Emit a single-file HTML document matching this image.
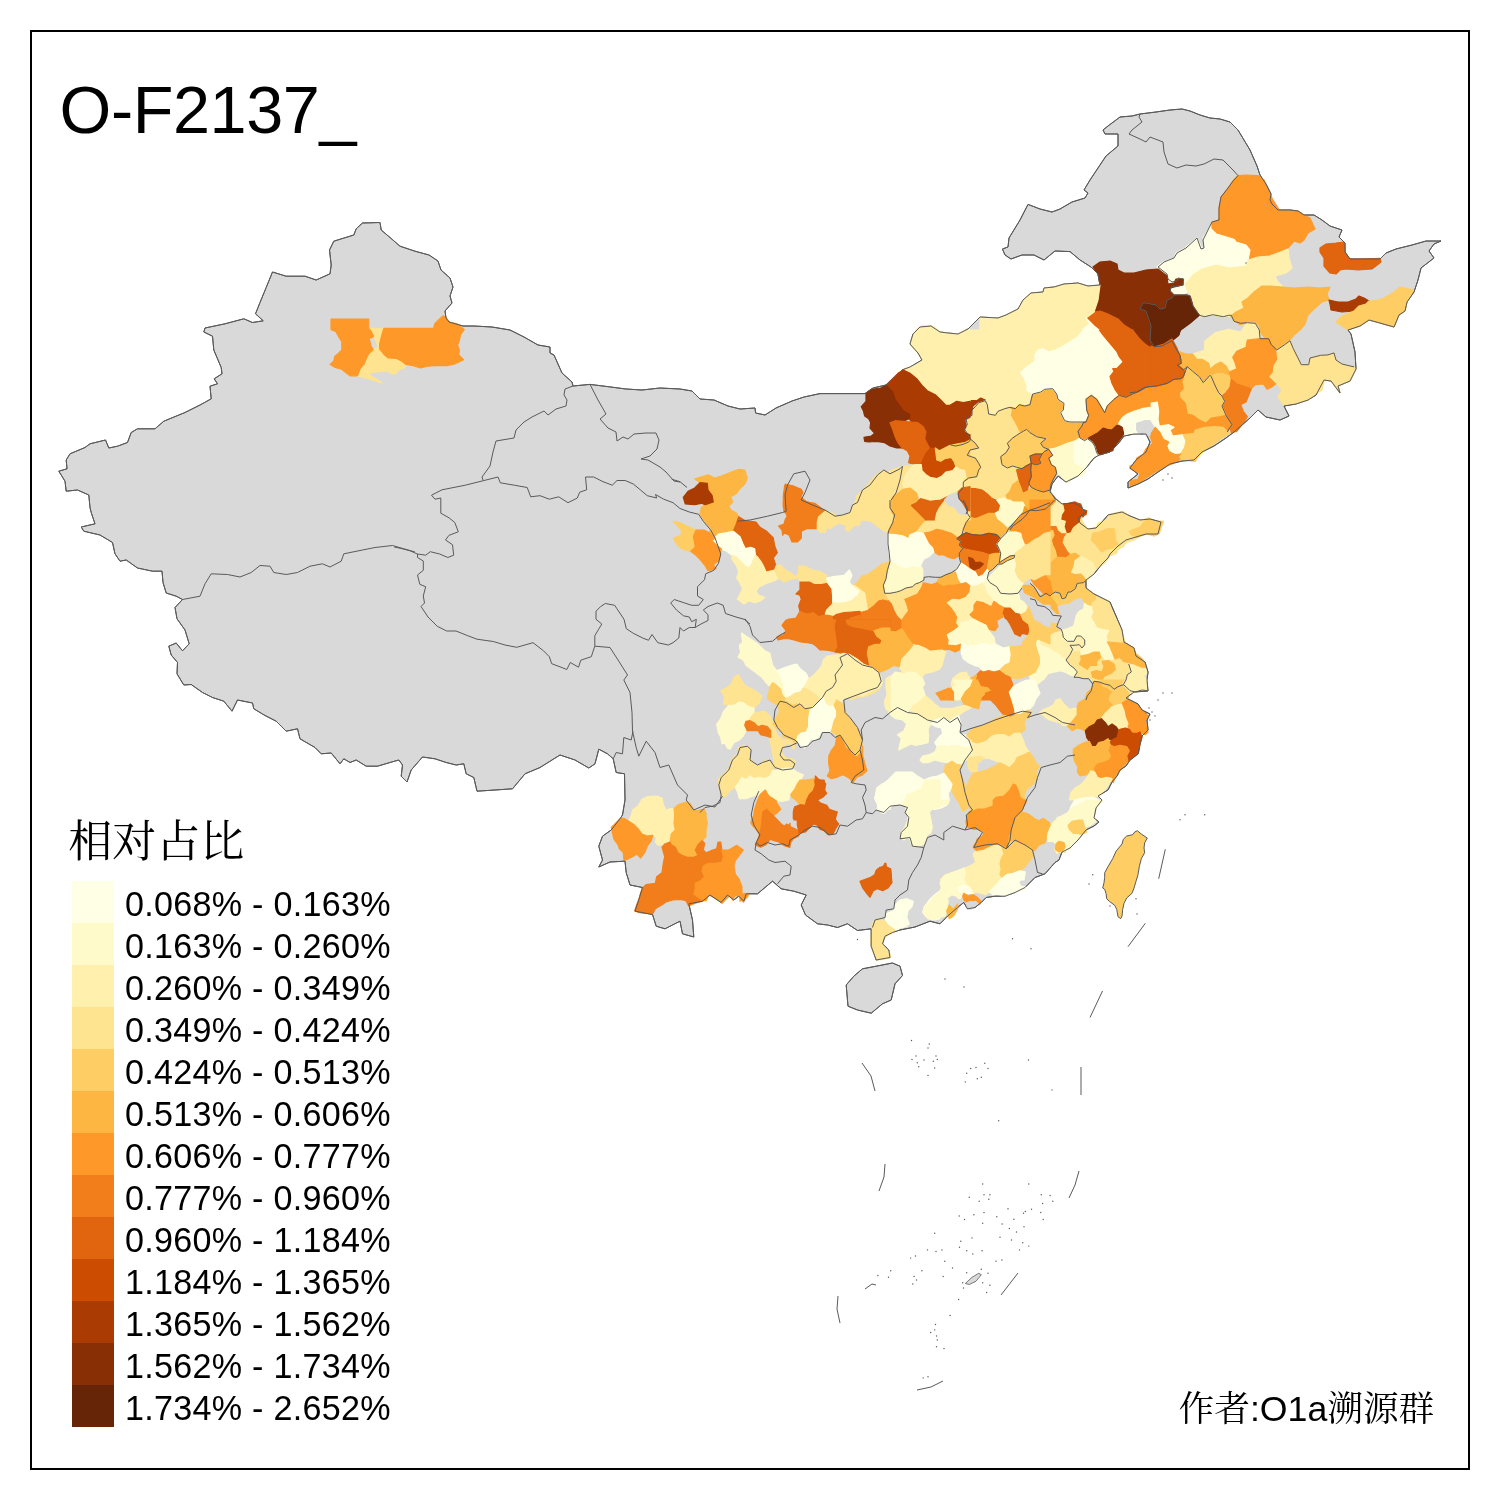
<!DOCTYPE html>
<html><head><meta charset="utf-8"><title>O-F2137_</title>
<style>html,body{margin:0;padding:0;background:#fff}svg{display:block}text{fill:#000}</style></head>
<body>
<svg width="1500" height="1500" viewBox="0 0 1500 1500">
<rect width="1500" height="1500" fill="#fff"/>
<g fill="#D9D9D9" stroke="#5a5a5a" stroke-width="1" stroke-linejoin="round">
<polygon points="415,251.2 400,246.2 390,237.5 381.2,230 380,222.5 362.5,223 356.2,228.8 353.8,235 333.8,241.2 329.5,250 331.2,265 330,273.8 316.2,280 305,276.2 286.2,276.2 272.5,272 266.2,287.5 260,302.5 255.5,313.8 263.2,320.8 252.5,322.5 243.8,318.8 225,323.8 205,328 203.8,332 212.5,336.2 213.8,350 221.2,367.5 222,373.8 214.2,378.8 217.5,383.8 210,386.2 211.2,398.8 200,405 185,412.5 163.8,421.2 155,428.8 137.5,428.8 131.2,432.5 127.5,442.5 117.5,446.2 108.8,448 105.5,440 90,443.8 85,447.5 70,453.8 66.2,460 67,468.8 58.8,471.2 65,481.2 66.2,491.2 77.5,490 88.8,495 90,507.5 91.2,512.5 95,523.8 81.2,527 83.8,531.2 100,535 112.5,542.5 115,553.8 120,561.2 126.2,560 137.5,568 152.5,571.2 162,571.2 163,582.5 166.2,593 176.2,596.2 182.5,599.5 175,607.5 177,618.8 185,630 189.2,643.8 182.5,650.8 176.2,643 168.8,646.2 171.2,655 177.5,662.5 177,673.8 183.8,685 191.2,684.5 202.5,692.5 212.5,697.5 223.8,701.2 232,711.2 237.5,700 252.5,703 253.8,708.8 265,715.5 276.2,721.2 286.2,731.2 297.5,728.8 300,738.8 315,747.5 321.2,753.8 331.2,753 340,763.8 343.8,758.8 350,762.5 356.2,760 366.2,766.2 377.5,766.2 390,762.5 398.8,760 402.5,765 401.2,776.2 407,782 411.2,770 422.5,757 435,758.8 446.2,762.5 456.2,765 463.8,763.8 466.2,773.8 473.8,777.5 477,791.2 495,790 512.5,788.8 525,773.8 540,767.5 560,755 575,760 588.8,768 595,763.8 598.8,749.2 607.5,753.8 613.2,758.8 616.2,772.5 624.5,773.8 625,800 622.5,815 620,818.8 611.2,830 602.5,836.2 598.8,846.2 602.5,860 598.8,867 610,862 625,861.2 626.2,872.5 630,885 642.5,887.5 638.8,900 635,911.2 652.5,914.5 656.2,926.2 665,928.8 680,921.2 682.5,933.8 693.8,937 692.5,920 688.8,903.8 702.5,901.2 710,895 721.2,902.5 727.5,895 733.8,900 738.8,896.2 743.8,901.2 746.2,893.8 757.5,893.8 765,887.5 772.5,881.2 781.2,888.8 793.8,891.2 806.2,895 801.2,905 805.5,915 817.5,923.8 827.5,925 837.5,927.5 847.5,923.8 857.5,930.5 871.2,928.8 871.2,935 871.2,946.2 876.2,960 890,957.5 888.8,950 882.5,943.8 885,936.2 892.5,932.5 900,930 915,927 930,921.2 940,923.8 947.5,916.2 957.5,907.5 963.8,902.5 967.5,908.8 975,907.5 981.2,902.5 986.2,897.5 995,896.2 1005,896.2 1015,892.5 1025,887.5 1035,877.5 1045,873.8 1055,862.5 1059,860 1062,852 1070,848 1078,840 1086,830 1094,826 1099,822 1094,818 1096,808 1102,800 1098,796 1108,790 1112,782 1117,776 1120,770 1126,766 1130,760 1138,754 1140,744 1142,736 1148,730 1147,720 1150,714 1142,710 1138,704 1130,700 1126,698 1134,692 1148,691 1147,680 1148,672 1145,662 1136,656 1134,648 1124,642 1122,630 1116,616 1110,602 1094,594 1086,588 1086,580 1094,574 1102,564 1108,558 1110,554 1118,546 1126,540 1136,537 1146,534 1158,534 1161,522 1150,519 1140,520 1130,516 1122,512 1108,515 1102,522 1096,528 1088,529 1080,523 1078,518 1086,512 1080,506 1074,503 1062,504 1056,499 1050,492 1052,484 1058,476 1066,482 1078,476 1086,468 1094,458 1099,455 1110,452 1118,444 1124,436 1134,434 1146,434 1150,442 1146,452 1136,460 1130,468 1138,474 1128,482 1128,488 1138,484 1148,479 1158,472 1170,464 1182,461 1194,460 1202,452 1214,446 1226,438 1234,432 1242,425 1250,418 1258,410 1266,417 1280,420 1289,416 1284,406 1296,404 1308,400 1316,395 1324,380 1331,381 1340,393 1338,386 1350,381 1356,369 1355,352 1351,334 1348,330 1360,326 1369,320 1380,323 1394,327 1399,315 1405,311 1407,302 1414,292 1418,280 1421,268 1434,258 1429,251 1434,244 1441,241 1426,241 1412,245 1396,249 1386,253 1380,259 1362,259 1350,259 1345,252 1345,243 1339,237 1342,230 1330,226 1322,220 1314,215 1304,215 1298,211 1290,210 1278,210 1272,204 1270,200 1271,194 1266,184 1260,175 1257,166 1250,150 1244,140 1238,130 1230,122 1220,119 1210,118 1200,115 1190,111 1182,109 1170,110 1156,112 1140,114 1132,116 1120,117 1108,126 1103,130 1105,134 1118,134 1118,146 1106,156 1098,168 1090,180 1084,190 1088,193 1085,198 1072,202 1060,209 1052,212 1040,209 1028,204.4 1020,220 1009,238 1008,247 1002.4,249 1005,255 1011,259 1022,255 1034,255 1044,260 1055,251 1070,251.6 1080,260 1091,267 1098,274 1100,285 1088,286 1078,283 1064,284 1054,287 1044,288 1043,292 1031,293 1023,300 1018,309 1006,315 998,318 980,317 968,329 958,334 948,333 940,332 931,326 920,327 913,334 910,344 918,353 922,360 910,367 902,370 894,378 886,385 873,388 865,393.6 840,393.6 820,393.6 804,397 792,401 776,408 765,415 755.6,413 755,408 740,409 728,406 714,400 700,399 692,391 680,389 660,388 642,390 626,389 606,386.4 590,384.4 573,386 572,382 562,373 554,355 550,353 550,347 538,345 524,337 510,330 492,327 474,326 463,326 449,322 446,318 445,311 452,303 450,296 453,287 450,278 441,270 438,261 429,255"/>
<polygon points="862.5,968.8 876.2,966.2 892.5,963 900,966.2 902.5,975.5 895,983.8 891.2,1000 882.5,1003.8 871.2,1013.2 857.5,1010 848,1006.2 846.2,985 853.8,976.2"/>
</g>
<g fill="none" stroke="#5a5a5a" stroke-width="1" stroke-linejoin="round">
</g>
<g stroke-width="1.2" stroke-linejoin="round">
<polygon fill="#FE9929" stroke="#FE9929" points="1221,200 1270,200 1272,204 1278,210 1290,210 1298,211 1304,215 1310,218 1315,229 1308,233 1304,240 1300,243 1294,241 1288,248 1278,253 1270,256 1258,257 1248,260 1250,250 1246,245 1236,242 1232,236 1236,230 1227,230 1219,232 1211,225 1219,220 1221,210"/>
<polygon fill="#FFFFE5" stroke="#FFFFE5" points="1211,225 1219,232 1227,230 1236,230 1232,236 1236,242 1246,245 1250,250 1248,260 1246,266 1230,268 1216,265 1202,269 1193,275 1189,280 1185,284 1188,292 1183,294 1172,294 1170,288 1183,285 1183,279 1176,279 1174,283 1168,284 1165,276 1157,267 1163,262 1174,258 1176,253 1185,248 1197,238 1202,249 1205,245 1203,238"/>
<polygon fill="#FFF0AE" stroke="#FFF0AE" points="1193,275 1202,269 1216,265 1230,268 1246,266 1248,260 1258,257 1270,256 1278,253 1288,249 1289,258 1292,268 1286,273 1275,276 1278,282 1283,287 1270,286 1262,286 1254,292 1248,298 1242,302 1244,308 1236,312 1231,316 1224,317 1212,315 1200,317 1194,309 1192,296 1188,292 1185,284 1189,280"/>
<polygon fill="#FEB642" stroke="#FEB642" points="1231,316 1236,312 1244,308 1242,302 1248,298 1254,292 1262,286 1270,286 1283,287 1294,288 1308,287 1320,288 1330,287 1327,294 1329,300 1322,302 1314,309 1308,315 1305,324 1300,330 1294,335 1290,340 1283,349 1278,351 1272,344 1270,339 1264,337 1260,332 1259,325 1248,322 1240,325 1234,320"/>
<polygon fill="#E1640E" stroke="#E1640E" points="1320,248 1326,244 1336,243 1344,242 1345,252 1349,259 1362,259 1380,258.4 1381,262 1372,269 1358,270 1346,269 1340,270 1336,274 1330,273 1324,266 1324,258 1320,252"/>
<polygon fill="#AA3C03" stroke="#AA3C03" points="1329,300 1338,302 1348,302 1356,299 1359,296 1364,298 1369,301 1366,304 1359,306 1354,311 1342,312 1331,310 1330,304"/>
<polygon fill="#FECE65" stroke="#FECE65" points="1336,322 1342,316 1354,311 1359,306 1366,304 1369,301 1378,300 1384,298 1394,292 1400,287 1414,290 1407,302 1405,311 1399,315 1394,327 1380,323 1369,320 1360,326 1348,330 1342,326"/>
<polygon fill="#FFF0AE" stroke="#FFF0AE" points="1192.7,354 1204.7,350 1204.7,341.3 1215.3,332.7 1228.7,329.3 1240.7,332 1247.3,322.7 1255.3,323.3 1259.3,330 1260,338.7 1247.3,340 1246,347.3 1236.7,351.3 1232.7,357.3 1235.3,363.3 1236.7,368.7 1229.3,372 1226,366 1220.7,362 1215.3,364.7 1210,369.3 1208.7,363.3 1202,359.3 1196.7,359.3"/>
<polygon fill="#FEB642" stroke="#FEB642" points="1178,351.3 1186,354 1192.7,354 1196.7,359.3 1202,359.3 1208.7,363.3 1210,369.3 1210,375.3 1203.3,382.7 1199.3,376.7 1192.7,371.3 1187.3,366.7 1183.3,370 1177.3,365.3 1181.3,363.3"/>
<polygon fill="#FEB642" stroke="#FEB642" points="1210,369.3 1215.3,364.7 1220.7,362 1226,366 1229.3,372 1228.7,376 1222,373.3 1215.3,374 1211.3,376.7"/>
<polygon fill="#FECE65" stroke="#FECE65" points="1211.3,376.7 1215.3,374 1222,373.3 1228.7,376 1231.3,379.3 1230,387.3 1226,392.7 1222,396 1218.7,392.7 1215.3,386"/>
<polygon fill="#FE9929" stroke="#FE9929" points="1247.3,340 1260,338.7 1268.7,338.7 1271.3,344.7 1276.7,350 1278,359.3 1274,366 1273.3,372.7 1270,376.7 1276.7,383.3 1271.3,387.3 1267.3,389.3 1263.3,384 1255.3,384.7 1251.3,388.7 1243.3,386 1236.7,384 1231.3,379.3 1229.3,372 1236.7,368.7 1235.3,363.3 1232.7,357.3 1236.7,351.3 1246,347.3"/>
<polygon fill="#F27E1B" stroke="#F27E1B" points="1222,396 1226,392.7 1230,387.3 1231.3,379.3 1236.7,384 1243.3,386 1251.3,388.7 1248.7,395.3 1246,402 1240.7,404.7 1243.3,411.3 1247.3,416.7 1243.3,423.3 1236.7,431.3 1231.3,432.7 1230,427.3 1232,424.7 1226,415.3 1222,406 1224.7,401.3"/>
<polygon fill="#FEE391" stroke="#FEE391" points="1276.7,350 1284.7,344.7 1290,340.7 1293.3,348.7 1298,358 1301.3,364.7 1308.7,364.7 1310,358 1320.7,355.3 1328,354.9 1334,352.9 1336,360 1342,364 1354,366.9 1356,368.9 1350,380.9 1338,386 1340,392.9 1330.9,380.9 1324.7,379.3 1322,390 1315.3,394 1307.3,400.7 1296.7,403.3 1284.7,404.7 1283.3,404.7 1278,396.7 1282,390 1276.7,383.3 1270,376.7 1273.3,372.7 1274,366 1278,359.3"/>
<polygon fill="#FECE65" stroke="#FECE65" points="1187.3,366.7 1192.7,371.3 1199.3,376.7 1203.3,382.7 1210,375.3 1211.3,376.7 1215.3,386 1218.7,392.7 1222,396 1224.7,401.3 1222,406 1226,415.3 1220.7,416.7 1211.3,418 1206,423.3 1199.3,420 1192.7,415.3 1187.3,414 1185.3,403.3 1180,398 1179.3,392.7 1183.3,388.7 1182,382 1183.3,376.7 1185.3,371.3"/>
<polygon fill="#FE9929" stroke="#FE9929" points="1130,392.7 1136.7,392 1144.7,387.3 1156.7,386 1167.3,383.3 1174,379.3 1180.7,378.7 1183.3,376.7 1182,382 1183.3,388.7 1179.3,392.7 1180,398 1185.3,403.3 1187.3,414 1192.7,415.3 1199.3,420 1206,423.3 1211.3,418 1220.7,416.7 1226,415.3 1232,424.7 1230,427.3 1227.3,432 1223.3,427.3 1215.3,426.7 1204.7,427.3 1195.3,430 1194,433.3 1183.3,434.7 1172.7,436 1170,430 1174,427.3 1168.7,424.7 1159.3,426 1158,419.3 1158.7,411.3 1157.3,402 1150,403.3 1142,408 1134,411.3 1130,411.3"/>
<polygon fill="#FFFFE5" stroke="#FFFFE5" points="1130,411.3 1134,411.3 1142,408 1150,403.3 1157.3,402 1158.7,411.3 1158,419.3 1159.3,426 1155.3,427.3 1151.3,420.7 1146,420 1138,423.3 1139.3,430 1130,430.7"/>
<polygon fill="#FFFFE5" stroke="#FFFFE5" points="1159.3,426 1168.7,424.7 1174,427.3 1170,430 1172.7,436 1183.3,434.7 1186,440.7 1184.7,447.3 1180.7,454 1175.3,454.7 1168.7,451.3 1166.7,446 1168.7,442 1163.3,439.3 1160,432.7 1155.3,427.3"/>
<polygon fill="#FECE65" stroke="#FECE65" points="1183.3,434.7 1194,433.3 1195.3,430 1204.7,427.3 1215.3,426.7 1223.3,427.3 1227.3,432 1230,433.3 1222,438 1212.7,444.7 1204.7,450 1199.3,455.3 1195.3,461.3 1186,460.7 1180,459.3 1178,456.7 1180.7,454 1184.7,447.3 1186,440.7"/>
<polygon fill="#FE9929" stroke="#FE9929" points="1151.3,433.3 1155.3,427.3 1160,432.7 1163.3,439.3 1168.7,442 1166.7,446 1168.7,451.3 1175.3,454.7 1180.7,454 1178,456.7 1180,459.3 1174,463.3 1163.3,467.3 1154,472.7 1146,478 1138,483.3 1130,486 1130,480.7 1138,479.3 1140,473.3 1130,468.7 1130,466 1135.3,463.3 1136.7,458 1143.3,454 1146,448.7 1152.7,443.3 1150,436"/>
<polygon fill="#E1640E" stroke="#E1640E" points="1130,334 1138,338 1144.7,342 1154,346.7 1162,346 1172,340.7 1176,348.7 1180,355.3 1181.3,363.3 1177.3,365.3 1183.3,370 1185.3,371.3 1183.3,376.7 1180.7,378.7 1174,379.3 1167.3,383.3 1156.7,386 1144.7,387.3 1136.7,392 1130,392.7"/>
<polygon fill="#882F05" stroke="#882F05" points="1130,310 1146,310 1148.7,318 1152,323.3 1150,335.3 1154,342 1154,346.7 1144.7,342 1138,338 1130,334"/>
<polygon fill="#662506" stroke="#662506" points="1146,310 1195.3,310 1199.3,315.3 1190,323.3 1180.7,330 1178,336 1172,340.7 1162,346 1154,346.7 1154,342 1150,335.3 1152,323.3 1148.7,318"/>
<polygon fill="#FE9929" stroke="#FE9929" points="1238,175.6 1246,175 1258,175.6 1264,180 1268,190 1273,200 1280,211 1280,240 1240,240 1217,233 1212,228 1212,222 1219,220 1219,208 1221,197 1228,188 1233,181"/>
<polygon fill="#882F05" stroke="#882F05" points="1093,267 1100,262 1110,261 1117,264 1118,270 1124,273 1134,273 1146,270 1158,269 1167,276 1168,284 1171,287 1170,291 1174,295 1172,298 1167,300 1165,308 1160,309 1156,305 1146,303 1140,309 1146,311 1149,320 1151,326 1150,340 1154,347 1148,345 1140,339 1132,330 1124,325 1118,319 1108,314 1100,311 1094,312 1098,300 1100,285 1098,274"/>
<polygon fill="#662506" stroke="#662506" points="1140,309 1143,303 1146,303 1156,305 1160,309 1165,308 1167,300 1172,298 1174,295 1187,295 1190,296 1193,306 1199,315 1190,322 1180,330 1179,335 1172,339 1164,344 1154,347 1150,340 1151,326 1149,320 1146,311"/>
<polygon fill="#E1640E" stroke="#E1640E" points="1086,318 1094,312 1100,311 1108,314 1118,319 1124,325 1132,330 1140,339 1148,345 1154,347 1164,344 1172,339 1177,348 1181,360 1178,365 1184,370 1180,376 1172,379 1160,384 1150,386 1144,392 1136,396 1128,400 1118,400 1114,389 1111,380 1116,370 1123,362 1118,354 1112,344 1104,334 1094,326"/>
<polygon fill="#FFF0AE" stroke="#FFF0AE" points="980,317 998,318 1006,315 1018,309 1023,300 1031,293 1043,292 1044,288 1054,287 1064,284 1078,283 1088,286 1100,285 1098,300 1094,312 1086,318 1090,324 1082,330 1078,340 1068,344 1060,350 1046,348 1036,350 1034,358 1026,364 1020,374 1027,382 1028,390 1032,395 1030,400 980,400"/>
<polygon fill="#FFFFE5" stroke="#FFFFE5" points="1086,318 1094,326 1104,334 1112,344 1118,354 1123,362 1116,370 1111,380 1114,389 1118,400 1092,400 1088,396 1082,400 1058,400 1056,392 1050,389 1042,392 1032,395 1028,390 1027,382 1020,374 1026,364 1034,358 1036,350 1046,348 1060,350 1068,344 1078,340 1082,330 1090,324"/>
<polygon fill="#FFF0AE" stroke="#FFF0AE" points="950,334 958,334 964.7,330 1083.3,330 1078,336.7 1070,342 1063.3,346 1055.3,350 1048.7,352 1043.3,348.7 1038,350 1034.7,355.3 1035.3,360.7 1030,364.7 1024.7,368.7 1020.7,372.7 1024.7,379.3 1027.3,386 1026.7,390 1032.7,394 1031.3,399.3 1030,404.7 1024.7,406 1019.3,404.7 1015.3,408.7 1010,407.3 1004.7,408.7 998,411.3 995.3,415.3 988.7,414 987.3,404.7 985.3,400.7 980.7,398 976.7,400.7 970,400.7 963.3,402 950,402.7"/>
<polygon fill="#AA3C03" stroke="#AA3C03" points="950,402.7 963.3,402 970,400.7 976.7,400.7 980.7,398 985.3,400 978.7,402.7 975.3,406.7 972,410 972,415.3 966,418.7 967.3,424.7 964,428.7 968.7,435.3 970.7,439.3 968.7,442 962,444.7 955.3,446 950,444.7"/>
<polygon fill="#FEE391" stroke="#FEE391" points="972,415.3 974,406.7 978.7,402.7 985.3,400.7 987.3,404.7 988.7,414 995.3,415.3 998,411.3 1004.7,408.7 1010,407.3 1012.7,410 1011.3,415.3 1015.3,422 1018,427.3 1020.7,432.7 1016.7,435.3 1012.7,438 1007.3,443.3 1009.3,447.3 1006,452.7 1000.7,456.7 1001.3,463.3 996.7,463.3 990,464.7 980.7,467.3 978.7,463.3 975.3,458 971.3,456.7 967.3,455.3 970,450 978.7,448 975.3,443.3 970.7,439.3 968.7,435.3 964,428.7 967.3,424.7 966,420.7"/>
<polygon fill="#FEB642" stroke="#FEB642" points="1010,407.3 1015.3,408.7 1019.3,404.7 1024.7,406 1030,404.7 1031.3,399.3 1032.7,394 1040.7,392 1044.7,389.3 1052.7,388.7 1056.7,394 1058,399.3 1064,403.3 1063.3,410 1060.7,412.7 1064.7,420.7 1070,422 1076.7,422 1083.3,422.7 1082,426 1078,431.3 1080,438 1075.3,440.7 1067.3,443.3 1060.7,446 1055.3,448 1048.7,449.3 1043.3,447.3 1040.7,443.3 1046,438.7 1036.7,436.7 1030,432.7 1026.7,429.3 1023.3,431.3 1020.7,432.7 1018,427.3 1015.3,422 1011.3,415.3 1012.7,410"/>
<polygon fill="#FFFFE5" stroke="#FFFFE5" points="1020.7,372.7 1024.7,368.7 1030,364.7 1035.3,360.7 1034.7,355.3 1038,350 1043.3,348.7 1048.7,352 1055.3,350 1063.3,346 1070,342 1078,336.7 1083.3,330 1099.3,330 1103.3,335.3 1110,343.3 1116.7,351.3 1119.3,356.7 1123.3,362 1116.7,368.7 1112.7,368.7 1114,371.3 1110,376.7 1112,383.3 1115.3,390 1119.3,395.3 1114,399.3 1107.3,406 1104.7,412.7 1100.7,406 1096.7,399.3 1091.3,395.3 1086,399.3 1086.7,410 1088.7,415.3 1086,422 1076.7,422 1070,422 1064.7,420.7 1060.7,412.7 1063.3,410 1064,403.3 1058,399.3 1056.7,394 1052.7,388.7 1044.7,389.3 1040.7,392 1032.7,394 1026.7,390 1027.3,386 1024.7,379.3"/>
<polygon fill="#E1640E" stroke="#E1640E" points="1099.3,330 1134,330 1139.3,336.7 1146,343.3 1150,346 1150,386 1146,387.3 1139.3,391.3 1132.7,394 1126,397.3 1119.3,395.3 1115.3,390 1112,383.3 1110,376.7 1114,371.3 1112.7,368.7 1116.7,368.7 1123.3,362 1119.3,356.7 1116.7,351.3 1110,343.3 1103.3,335.3"/>
<polygon fill="#882F05" stroke="#882F05" points="1134,330 1150,330 1150,346 1146,343.3 1139.3,336.7"/>
<polygon fill="#FE9929" stroke="#FE9929" points="1086,399.3 1091.3,395.3 1096.7,399.3 1100.7,406 1104.7,412.7 1107.3,406 1114,399.3 1119.3,395.3 1126,397.3 1132.7,394 1139.3,391.3 1146,387.3 1150,386 1150,407.3 1142,408.7 1134,411.3 1127.3,414 1122,418 1118.7,423.3 1116.7,425.3 1112,430 1107.3,429.3 1103.3,428 1098,432.7 1093.3,435.3 1087.3,438.7 1084.7,440.7 1080,438 1078,431.3 1082,426 1083.3,422.7 1086,422 1088.7,415.3 1086.7,410"/>
<polygon fill="#882F05" stroke="#882F05" points="1087.3,438.7 1093.3,435.3 1098,432.7 1103.3,428 1107.3,429.3 1112,430 1116.7,425.3 1123.3,426.7 1124.7,432.7 1122,436.7 1118,442 1114,447.3 1112.7,450.7 1106,452.7 1100.7,454.7 1096.7,452.7 1094.7,446 1092,442"/>
<polygon fill="#FFFFE5" stroke="#FFFFE5" points="1118.7,423.3 1122,418 1127.3,414 1134,411.3 1142,408.7 1150,407.3 1150,420.7 1144.7,420.7 1138,423.3 1136.7,430 1139.3,434 1134,433.3 1128.7,434 1124.7,435.3 1124.7,432.7 1123.3,426.7"/>
<polygon fill="#D9D9D9" stroke="#D9D9D9" points="1136.7,423.3 1144.7,420.7 1150,420.7 1150,435.3 1146,435.3 1142,432.7 1139.3,434 1136.7,430"/>
<polygon fill="#FFFACA" stroke="#FFFACA" points="1048.7,449.3 1055.3,448 1060.7,446 1067.3,443.3 1075.3,440.7 1074,446 1075.3,450 1074,456.7 1075.3,463.3 1083.3,467.3 1086,471.3 1082,475.3 1076.7,476.7 1070,479.3 1068.7,482.7 1064.7,480.7 1060.7,475.3 1056.7,473.3 1055.3,467.3 1051.3,464.7 1048.7,458 1052.7,455.3 1050,451.3"/>
<polygon fill="#FFFFE5" stroke="#FFFFE5" points="1075.3,440.7 1080,438 1084.7,440.7 1087.3,438.7 1092,442 1094.7,446 1096.7,452.7 1098,454.7 1092.7,458 1088.7,462 1086,467.3 1083.3,467.3 1075.3,463.3 1074,456.7 1075.3,450 1074,446"/>
<polygon fill="#FECE65" stroke="#FECE65" points="1007.3,443.3 1012.7,438 1016.7,435.3 1020.7,432.7 1023.3,431.3 1026.7,429.3 1030,432.7 1036.7,436.7 1046,438.7 1040.7,443.3 1043.3,447.3 1048.7,449.3 1044.7,451.3 1042,454 1035.3,454 1030,456 1031.3,463.3 1026,466 1022,468.7 1016.7,467.3 1012.7,466 1007.3,468 1002,464.7 1001.3,463.3 1000.7,456.7 1006,452.7 1009.3,447.3"/>
<polygon fill="#E1640E" stroke="#E1640E" points="1030,456 1035.3,454 1042,454 1039.3,459.3 1040.7,463.3 1036.7,464.7 1033.3,464 1031.3,463.3"/>
<polygon fill="#FE9929" stroke="#FE9929" points="1042,454 1044.7,451.3 1048.7,449.3 1050,451.3 1052.7,455.3 1048.7,458 1051.3,464.7 1055.3,467.3 1056.7,473.3 1054,478 1051.3,483.3 1050,490 1043.3,492 1036.7,490 1031.3,487.3 1028.7,483.3 1031.3,476.7 1030.7,470 1031.3,463.3 1033.3,464 1036.7,464.7 1040.7,463.3 1039.3,459.3"/>
<polygon fill="#E1640E" stroke="#E1640E" points="1015.3,470 1022,468.7 1026,466 1031.3,463.3 1030.7,470 1031.3,476.7 1028.7,483.3 1027.3,491.3 1022.7,493.3 1020.7,487.3 1018,480.7 1016.7,475.3"/>
<polygon fill="#FEE391" stroke="#FEE391" points="963.3,482 968.7,478 976.7,476.7 978.7,470 980.7,467.3 990,464.7 996.7,463.3 1001.3,463.3 1002,464.7 1007.3,468 1012.7,466 1016.7,467.3 1015.3,470 1016.7,475.3 1018,480.7 1012.7,484.7 1010,491.3 1006,495.3 1008.7,500.7 1003.3,498 998,499.3 991.3,498 987.3,494 982,490 975.3,488.7 968.7,488.7 963.3,487.3"/>
<polygon fill="#FEB642" stroke="#FEB642" points="1006,495.3 1010,491.3 1012.7,484.7 1018,480.7 1020.7,487.3 1022.7,493.3 1027.3,491.3 1031.3,487.3 1036.7,490 1043.3,492 1050,490 1052.7,495.3 1055.3,499.3 1050,504.7 1046,508.7 1040.7,510 1035.3,510.7 1030,510 1026,515.3 1022,519.3 1016.7,523.3 1012.7,522 1014,516.7 1016.7,512.7 1019.3,506 1024.7,506 1022.7,502 1016.7,502 1012.7,502 1008.7,500.7"/>
<polygon fill="#E1640E" stroke="#E1640E" points="958,494 963.3,488.7 968.7,488.7 975.3,488.7 982,490 987.3,494 991.3,498 996.7,500.7 1000,507.3 996.7,512.7 990,514 984.7,516.7 976.7,519.3 971.3,516.7 967.3,511.3 964.7,503.3 959.3,499.3"/>
<polygon fill="#FFFACA" stroke="#FFFACA" points="996.7,500.7 998,499.3 1003.3,498 1008.7,500.7 1012.7,502 1022.7,502 1024.7,506 1019.3,506 1016.7,512.7 1014,516.7 1012.7,522 1007.3,526 1002,524.7 999.3,519.3 995.3,516.7 996.7,512.7 1000,507.3"/>
<polygon fill="#FECE65" stroke="#FECE65" points="950,446 955.3,446 962,444.7 968.7,442 970.7,439.3 975.3,443.3 978.7,448 970,450 967.3,455.3 971.3,456.7 975.3,458 978.7,463.3 980.7,467.3 978.7,470 976.7,476.7 968.7,478 963.3,482 958,474 955.3,470 952.7,458 950,456.7"/>
<polygon fill="#E1640E" stroke="#E1640E" points="950,456.7 952.7,458 956.7,468.7 955.3,471.3 950,472.7"/>
<polygon fill="#FFF0AE" stroke="#FFF0AE" points="950,472.7 955.3,470 958,474 963.3,482 963.3,487.3 958,494 954,492.7 950,492.7"/>
<polygon fill="#CC4C02" stroke="#CC4C02" points="1062.7,504.7 1070,503.3 1075.3,502 1079.3,506 1083.3,510 1086,511.3 1083.3,516.7 1078,518 1079.3,522 1075.3,526 1070,530 1062,530 1060.7,522 1063.3,516.7 1064.7,511.3"/>
<polygon fill="#FEE391" stroke="#FEE391" points="1046,508.7 1050,504.7 1055.3,499.3 1058,502 1060.7,502 1062.7,504.7 1064.7,511.3 1063.3,516.7 1060.7,522 1054,522 1047.3,526 1043.3,530 1035.3,530 1038,523.3 1042,516.7 1043.3,512.7"/>
<polygon fill="#FE9929" stroke="#FE9929" points="1016.7,523.3 1022,519.3 1026,515.3 1030,510 1035.3,510.7 1040.7,510 1046,508.7 1043.3,512.7 1042,516.7 1038,523.3 1035.3,530 1010,530 1012.7,526"/>
<polygon fill="#FEB642" stroke="#FEB642" points="963.3,530 967.3,522 971.3,516.7 976.7,519.3 984.7,516.7 990,514 995.3,516.7 999.3,519.3 1002,524.7 1006,530"/>
<polygon fill="#FEE391" stroke="#FEE391" points="1078.7,522 1080.7,516 1082.7,522 1087.3,528.7 1095.3,528.7 1098,523.3 1107.3,519.3 1108.7,514.7 1116.7,512.7 1123.3,511.3 1128.7,516 1135.3,518.7 1140.7,520 1148.7,518 1154,521.3 1163.3,521.3 1161.3,526.7 1159.3,533.3 1154,536 1147.3,534 1140.7,536 1134,540 1126,542.7 1123.3,546.7 1118,549.3 1116.7,553.3 1110,556 1106,561.3 1102,565.3 1095.3,569.3 1092.7,574.7 1088.7,578.7 1086,580.7 1083.3,576.7 1080.7,574 1075.3,574.7 1070,572.7 1072.7,566.7 1074,560 1079.3,556 1075.3,553.3 1070,554.7 1067.3,552 1064.7,547.3 1062,542.7 1063.3,537.3 1066,532.7 1070,532 1072.7,526.7"/>
<polygon fill="#FECE65" stroke="#FECE65" points="1092.7,533.3 1099.3,532 1107.3,528.7 1114,528.7 1115.3,534.7 1115.3,540 1118,544 1112.7,548 1106,549.3 1102,552 1099.3,549.3 1095.3,544 1091.3,540"/>
<polygon fill="#FECE65" stroke="#FECE65" points="1129.3,531.3 1135.3,528.7 1140.7,526.7 1143.3,522.7 1148.7,518 1154,521.3 1163.3,521.3 1161.3,526.7 1159.3,533.3 1154,536 1147.3,534 1140.7,536 1136.7,537.3 1131.3,534.7"/>
<polygon fill="#FFF0AE" stroke="#FFF0AE" points="1072.7,566.7 1074,560 1079.3,556 1086,558.7 1092.7,562.7 1095.3,569.3 1092.7,574.7 1088.7,578.7 1086,580.7 1083.3,576.7 1080.7,574 1075.3,574.7 1070,572.7"/>
<polygon fill="#CC4C02" stroke="#CC4C02" points="1062.7,504.7 1074,502 1080.7,504 1082.7,509.3 1086.7,510.7 1086,514.7 1080.7,516 1078.7,522 1072.7,526.7 1070,532 1066,532.7 1064,526.7 1065.3,521.3 1060.7,520 1061.3,514.7 1064,510.7"/>
<polygon fill="#F27E1B" stroke="#F27E1B" points="1047.3,527.3 1051.3,525.3 1056.7,525.3 1058.7,530 1062,532.7 1066,532.7 1063.3,537.3 1062,542.7 1064.7,547.3 1067.3,552 1070,554.7 1066,558 1062,557.3 1056.7,557.3 1055.3,550.7 1052.7,545.3 1051.3,540 1054,535.3 1052.7,530.7 1048.7,530"/>
<polygon fill="#FFF0AE" stroke="#FFF0AE" points="1042,517.3 1047.3,513.3 1050,506.7 1055.3,501.3 1062.7,504.7 1064,510.7 1061.3,514.7 1060.7,520 1065.3,521.3 1064,526.7 1066,532.7 1062,532.7 1058.7,530 1056.7,525.3 1051.3,525.3 1047.3,527.3 1048.7,530 1043.3,530.7 1040.7,524"/>
<polygon fill="#FE9929" stroke="#FE9929" points="1030,500 1055.3,500 1055.3,501.3 1050,506.7 1047.3,513.3 1042,517.3 1036.7,521.3 1034,526.7 1035.3,532 1030,537.3"/>
<polygon fill="#FECE65" stroke="#FECE65" points="1030,537.3 1035.3,532 1034,526.7 1036.7,521.3 1042,517.3 1040.7,524 1043.3,530.7 1048.7,530 1052.7,530.7 1054,535.3 1051.3,540 1052.7,545.3 1055.3,550.7 1056.7,557.3 1051.3,562.7 1047.3,566.7 1043.3,570.7 1038,574.7 1032.7,577.3 1030,578.7"/>
<polygon fill="#FEB642" stroke="#FEB642" points="1043.3,570.7 1047.3,566.7 1051.3,562.7 1056.7,557.3 1062,557.3 1066,558 1070,554.7 1075.3,553.3 1079.3,556 1074,560 1072.7,566.7 1070,572.7 1075.3,574.7 1080.7,574 1083.3,576.7 1086,580.7 1083.3,582.7 1078,582.7 1075.3,588 1071.3,592 1067.3,592 1064.7,598 1061.3,597.3 1059.3,593.3 1055.3,592 1052.7,593.3 1050,596 1046,593.3 1051.3,588 1050,581.3 1047.3,578.7"/>
<polygon fill="#FE9929" stroke="#FE9929" points="1031.3,580 1038,574.7 1043.3,570.7 1047.3,578.7 1050,581.3 1051.3,588 1052.7,593.3 1050,596 1046,597.3 1042,592 1038,588 1034,584"/>
<polygon fill="#FECE65" stroke="#FECE65" points="1050,596 1052.7,593.3 1055.3,592 1059.3,593.3 1061.3,597.3 1064.7,598 1067.3,592 1071.3,592 1075.3,588 1078,582.7 1083.3,582.7 1085.3,588 1091.3,592 1096.7,596 1096.7,600 1092.7,602.7 1091.3,606.7 1087.3,605.3 1083.3,602.7 1080.7,598.7 1075.3,600 1070,604 1063.3,605.3 1058,606.7"/>
<polygon fill="#FEB642" stroke="#FEB642" points="1030,585.3 1034,586.7 1039.3,596 1043.3,594.7 1050,596 1058,606.7 1060,613.3 1056.7,613.3 1052.7,609.3 1048.7,605.3 1044.7,604 1038,602.7 1035.3,598.7 1030,596"/>
<polygon fill="#FEE391" stroke="#FEE391" points="1091.3,606.7 1092.7,602.7 1096.7,600 1096.7,596 1108.7,601.3 1111.3,609.3 1115.3,617.3 1119.3,625.3 1122,630.7 1123.3,636 1124.7,642 1122,643.3 1115.3,642.7 1107.3,642 1106,636 1108.7,630.7 1102,629.3 1096.7,628 1094,622.7 1090.7,617.3 1092.7,612"/>
<polygon fill="#FFFACA" stroke="#FFFACA" points="1075.3,614.7 1078,610.7 1082.7,608 1083.3,602.7 1087.3,605.3 1091.3,606.7 1092.7,612 1090.7,617.3 1094,622.7 1096.7,628 1102,629.3 1108.7,630.7 1106,636 1107.3,642 1110,646.7 1112.7,653.3 1115.3,660 1110,661.3 1104.7,660.7 1102,657.3 1099.3,652 1094,652 1087.3,654.7 1080.7,656 1079.3,650.7 1082,648 1084.7,644.7 1084.7,640 1080.7,636 1076.7,636 1074,641.3 1067.3,641.3 1063.3,637.3 1062.7,633.3 1061.3,629.3 1066,628 1072.7,625.3 1074,620"/>
<polygon fill="#FEB642" stroke="#FEB642" points="1107.3,642 1115.3,642.7 1122,643.3 1124.7,642 1128.7,645.3 1134,648 1135.3,653.3 1142,658.7 1144.7,662.7 1146,668.7 1140.7,668 1134,665.3 1128.7,664 1123.3,662.7 1119.3,658.7 1115.3,660 1112.7,653.3 1110,646.7"/>
<polygon fill="#FEE391" stroke="#FEE391" points="1066,660 1070,654.7 1074,650.7 1079.3,650.7 1080.7,656 1081.3,660 1079.3,664 1083.3,666.7 1087.3,669.3 1090,665.3 1096.7,665.3 1096.7,661.3 1100.7,657.3 1102,657.3 1104.7,660.7 1115.3,660 1119.3,658.7 1123.3,662.7 1128.7,664 1134,665.3 1131.3,672 1127.3,674.7 1126,680 1123.3,684.7 1118,686.7 1114,689.3 1110,685.3 1104.7,684 1099.3,682 1094,681.3 1088.7,678.7 1083.3,678.7 1078,677.3 1074,677.3 1077.3,672 1074,668 1070,665.3"/>
<polygon fill="#FEB642" stroke="#FEB642" points="1080.7,656 1087.3,654.7 1094,652 1099.3,652 1100.7,657.3 1096.7,661.3 1096.7,665.3 1090,665.3 1087.3,669.3 1083.3,666.7 1079.3,664 1081.3,660"/>
<polygon fill="#FEB642" stroke="#FEB642" points="1102,661.3 1108.7,660.7 1114,664 1115.3,669.3 1111.3,673.3 1104.7,676 1102,672 1104,666.7"/>
<polygon fill="#FEB642" stroke="#FEB642" points="1091.3,672 1096.7,670.7 1102,672 1104.7,676 1102,680 1096.7,678.7 1092.7,677.3"/>
<polygon fill="#FFF0AE" stroke="#FFF0AE" points="1128.7,664 1134,665.3 1140.7,668 1146,668.7 1147.3,673.3 1143.3,676 1147.3,680 1146,686.7 1147.3,690.7 1142,690 1135.3,692 1130,690.7 1126,686.7 1123.3,684.7 1126,680 1127.3,674.7 1131.3,672"/>
<polygon fill="#FFF0AE" stroke="#FFF0AE" points="1062.7,633.3 1063.3,637.3 1067.3,641.3 1074,641.3 1076.7,636 1080.7,636 1084.7,640 1084.7,644.7 1082,648 1079.3,650.7 1074,650.7 1070,654.7 1066,660 1062,657.3 1056.7,653.3 1050,649.3 1043.3,646.7 1038,644 1040.7,638.7 1047.3,636 1054,632 1058.7,630.7"/>
<polygon fill="#FECE65" stroke="#FECE65" points="1030,622.7 1034,626.7 1038,624 1043.3,622.7 1050,621.3 1055.3,622.7 1058.7,621.3 1061.3,629.3 1058.7,630.7 1054,632 1047.3,636 1040.7,638.7 1035.3,640 1030,638.7"/>
<polygon fill="#FFFACA" stroke="#FFFACA" points="1030,638.7 1035.3,640 1040.7,638.7 1038,644 1043.3,646.7 1050,649.3 1056.7,653.3 1062,657.3 1066,660 1070,665.3 1074,668 1077.3,672 1074,677.3 1070,676 1064.7,673.3 1060.7,672 1054,673.3 1048.7,674.7 1044.7,680 1039.3,684 1035.3,689.3 1030,692"/>
<polygon fill="#D9D9D9" stroke="#D9D9D9" points="1058,606.7 1063.3,605.3 1070,604 1075.3,600 1080.7,598.7 1083.3,602.7 1082.7,608 1078,610.7 1075.3,614.7 1074,620 1072.7,625.3 1066,628 1059.3,629.3 1056.7,626.7 1058.7,621.3 1061.3,616 1060,613.3"/>
<polygon fill="#D9D9D9" stroke="#D9D9D9" points="1030,598.7 1035.3,600 1038,605.3 1044.7,606.7 1050,610.7 1052.7,616 1056.7,616 1058.7,621.3 1055.3,622.7 1050,621.3 1043.3,622.7 1038,624 1034,626.7 1030,622.7"/>
<polygon fill="#D9D9D9" stroke="#D9D9D9" points="1038,685.3 1044.7,680 1048.7,674.7 1054,673.3 1060.7,672 1064.7,673.3 1070,676 1074,677.3 1078,677.3 1083.3,678.7 1088.7,678.7 1092.7,684 1091.3,690.7 1087.3,696 1086,700 1038,700 1036.7,692"/>
<polygon fill="#FEB642" stroke="#FEB642" points="1086,700 1087.3,696 1091.3,690.7 1092.7,684 1094,681.3 1099.3,682 1104.7,684 1110,685.3 1114,689.3 1118,686.7 1123.3,684.7 1126,686.7 1130,690.7 1128.7,696 1127.3,700"/>
<polygon fill="#FEE391" stroke="#FEE391" points="856.7,500 890,500 890,508 894.7,514.7 892.7,522.7 888.7,530.7 886,532 878,526.7 871.3,521.3 863.3,520 855.3,522.7 850,524 850,512 854,508 857.3,505.3"/>
<polygon fill="#FEB642" stroke="#FEB642" points="890,500 914,500 912.7,505.3 918,509.3 926,513.3 930,518.7 924.7,522 920.7,526.7 916.7,532 910,534.7 908.7,538.7 903.3,536 895.3,534.7 888.7,534 888,532 892.7,522.7 894.7,514.7 890,508"/>
<polygon fill="#E1640E" stroke="#E1640E" points="914,500 928.7,500 932.7,503.3 938,500 944.7,500 943.3,504 938,508 935.3,513.3 935.3,518.7 930,518.7 926,513.3 918,509.3 912.7,505.3"/>
<polygon fill="#FEE391" stroke="#FEE391" points="935.3,518.7 935.3,513.3 938,508 943.3,504 948.7,506.7 951.3,513.3 956.7,514.7 967.3,513.3 970,517.3 966,522.7 963.3,529.3 962,534.7 956.7,537.3 951.3,533.3 943.3,530.7 936.7,529.3 930,532 923.3,533.3 916.7,532 920.7,526.7 924.7,522 930,518.7"/>
<polygon fill="#E1640E" stroke="#E1640E" points="963.3,500 996.7,500 1000.7,505.3 999.3,510.7 995.3,513.3 988.7,513.3 982,516 975.3,518.7 970,517.3 967.3,513.3 967.3,508"/>
<polygon fill="#FEB642" stroke="#FEB642" points="970,517.3 975.3,518.7 982,516 988.7,513.3 995.3,513.3 998,518.7 1003.3,522.7 1008.7,528 1006,533.3 1000.7,538.7 996.7,534.7 988.7,533.3 980.7,535.3 972.7,534.7 966,532.7 963.3,529.3 966,522.7"/>
<polygon fill="#FFFACA" stroke="#FFFACA" points="996.7,500 1010,500 1015.3,504 1024.7,506.7 1023.3,512 1019.3,517.3 1014,522.7 1008.7,528 1003.3,522.7 998,518.7 995.3,513.3 999.3,510.7 1000.7,505.3"/>
<polygon fill="#FE9929" stroke="#FE9929" points="1024.7,506.7 1028.7,510.7 1036.7,508 1046,505.3 1050,504 1050,532 1044.7,533.3 1039.3,537.3 1034,540 1028.7,544 1024.7,545.3 1022,538.7 1020.7,533.3 1016.7,530.7 1011.3,530.7 1008.7,528 1014,522.7 1019.3,517.3 1023.3,512"/>
<polygon fill="#CC4C02" stroke="#CC4C02" points="956.7,538.7 962,534.7 966,532.7 972.7,534.7 980.7,535.3 988.7,533.3 996.7,534.7 1000.7,538.7 996.7,544 999.3,549.3 1000.7,553.3 995.3,553.3 990,554.7 983.3,552.7 976.7,551.3 970,550 963.3,548.7 959.3,545.3 960.7,541.3"/>
<polygon fill="#FFFACA" stroke="#FFFACA" points="1000.7,538.7 1006,533.3 1014,532 1020.7,533.3 1022,538.7 1024.7,545.3 1020.7,549.3 1015.3,553.3 1010,556 1003.3,560 999.3,562.7 1000.7,553.3 999.3,549.3 996.7,544"/>
<polygon fill="#F27E1B" stroke="#F27E1B" points="959.3,553.3 962,549.3 963.3,548.7 970,550 976.7,551.3 983.3,552.7 990,554.7 988.7,561.3 987.3,569.3 983.3,574.7 978,577.3 975.3,572 970,569.3 964.7,565.3 960.7,562.7 959.3,557.3"/>
<polygon fill="#AA3C03" stroke="#AA3C03" points="968.7,557.3 972.7,558.7 975.3,562.7 980,562 983.3,564 979.3,568 974,570 970,566.7 969.3,562"/>
<polygon fill="#FEB642" stroke="#FEB642" points="990,554.7 995.3,553.3 1000.7,553.3 999.3,562.7 1003.3,560 1010,556 1014.7,555.3 1014,558 1007.3,560.7 1002,564 998,564 992.7,569.3 988.7,572 987.3,569.3 988.7,561.3"/>
<polygon fill="#FE9929" stroke="#FE9929" points="923.3,533.3 930,532 936.7,529.3 943.3,530.7 951.3,533.3 956.7,537.3 956.7,538.7 960.7,541.3 959.3,545.3 963.3,548.7 962,549.3 959.3,553.3 959.3,557.3 954,560 948.7,558.7 943.3,556 938,556 934,553.3 932.7,548 928.7,544 926,538.7"/>
<polygon fill="#FFFFE5" stroke="#FFFFE5" points="888,534 895.3,534.7 903.3,536 908.7,538.7 910,534.7 916.7,532 923.3,533.3 926,538.7 928.7,544 932.7,548 934,553.3 930,557.3 924.7,560 922,565.3 919.3,568 912.7,566.7 906,569.3 899.3,566.7 894,564 890,561.3 889.3,553.3 888,544"/>
<polygon fill="#FFFACA" stroke="#FFFACA" points="890,561.3 894,564 899.3,566.7 906,569.3 912.7,566.7 919.3,568 922,565.3 924,569.3 924,580 919.3,582.7 915.3,584 912.7,586.7 906,588 900.7,590.7 896.7,592 890,593.3 884.7,593.3 883.3,585.3 886,578.7 887.3,570.7"/>
<polygon fill="#D9D9D9" stroke="#D9D9D9" points="922,565.3 924.7,560 930,557.3 934,553.3 938,556 943.3,556 948.7,558.7 954,560 959.3,557.3 960.7,562.7 956.7,569.3 951.3,572.7 946,574.7 940.7,577.3 935.3,577.3 938.7,578.7 936.7,582.7 931.3,584.7 926,583.3 924,580 924,569.3"/>
<polygon fill="#FFFFE5" stroke="#FFFFE5" points="955.3,572 956.7,569.3 960.7,562.7 964.7,565.3 970,569.3 975.3,572 978,577.3 983.3,574.7 987.3,569.3 988.7,572 986,578.7 983.3,582.7 978,585.3 971.3,585.3 966,582.7 960.7,584 958,580"/>
<polygon fill="#FEB642" stroke="#FEB642" points="936.7,582.7 938.7,578.7 940.7,577.3 946,574.7 951.3,572.7 955.3,572 958,580 960.7,584 954,585.3 948.7,585.3 943.3,586.7"/>
<polygon fill="#FE9929" stroke="#FE9929" points="903.3,598.7 910,596 916.7,593.3 920.7,586.7 922,582.7 926,583.3 931.3,584.7 936.7,582.7 943.3,586.7 948.7,585.3 954,585.3 960.7,584 966,582.7 970.7,586.7 970,592 966,597.3 959.3,600 952.7,599.3 947.3,602.7 951.3,606.7 955.3,612 958,617.3 956.7,622.7 959.3,626.7 954,630.7 947.3,634.7 949.3,640 948.7,644 955.3,644.7 962,642.7 961.3,646.7 959.3,650 955.3,652 948.7,649.3 942,650 935.3,650.7 930,651.3 924.7,648 918,645.3 911.3,642.7 907.3,637.3 903.3,630.7 900.7,628 900.7,620 903.3,616 907.3,610.7 906,605.3"/>
<polygon fill="#FEE391" stroke="#FEE391" points="884.7,593.3 890,593.3 896.7,592 900.7,590.7 906,588 912.7,586.7 915.3,584 919.3,582.7 922,582.7 920.7,586.7 916.7,593.3 910,596 903.3,598.7 906,605.3 907.3,610.7 903.3,616 900.7,620 896.7,616 894,610.7 891.3,604 887.3,600"/>
<polygon fill="#FFF0AE" stroke="#FFF0AE" points="947.3,602.7 952.7,599.3 959.3,600 966,597.3 970,592 970.7,586.7 978,585.3 983.3,582.7 986,586.7 987.3,592 991.3,596 994,601.3 991.3,606.7 983.3,602.7 976.7,601.3 974,605.3 974,610.7 970,614.7 972.7,618.7 967.3,621.3 960.7,622.7 959.3,626.7 956.7,622.7 958,617.3 955.3,612 951.3,606.7"/>
<polygon fill="#FFFACA" stroke="#FFFACA" points="987.3,578.7 994,572 999.3,566.7 1007.3,561.3 1014.7,557.3 1016.7,564 1015.3,570.7 1018,577.3 1023.3,582.7 1022,588 1018,593.3 1010,594 1000.7,593.3 996.7,586.7 990,582.7"/>
<polygon fill="#FEE391" stroke="#FEE391" points="1014.7,557.3 1015.3,553.3 1020.7,549.3 1024.7,545.3 1028.7,544 1034,540 1039.3,537.3 1044.7,533.3 1050,532 1050,574.7 1044.7,574.7 1039.3,577.3 1034,580 1030,577.3 1023.3,582.7 1018,577.3 1015.3,570.7 1016.7,564"/>
<polygon fill="#FEB642" stroke="#FEB642" points="1022,588 1023.3,585.3 1028.7,585.3 1034,588 1036.7,593.3 1042,596 1050,596 1050,605.3 1043.3,605.3 1039.3,602.7 1034,598.7 1028.7,596 1023.3,593.3"/>
<polygon fill="#FFFACA" stroke="#FFFACA" points="986,586.7 983.3,582.7 987.3,578.7 990,582.7 996.7,586.7 1000.7,593.3 1010,594 1018,593.3 1020.7,598.7 1024.7,601.3 1027.3,606.7 1026,612 1020.7,614.7 1015.3,613.3 1010,608 1004.7,608 999.3,605.3 994,601.3 991.3,596 987.3,592"/>
<polygon fill="#FE9929" stroke="#FE9929" points="974,605.3 976.7,601.3 983.3,602.7 991.3,606.7 994,601.3 999.3,605.3 1004.7,608 1003.3,613.3 1002,618.7 998,621.3 999.3,626.7 995.3,632 988.7,630.7 986,625.3 980.7,622.7 975.3,620 970,614.7 974,610.7"/>
<polygon fill="#E1640E" stroke="#E1640E" points="1003.3,613.3 1004.7,608 1010,608 1015.3,613.3 1020.7,614.7 1023.3,620 1028.7,624 1030,630.7 1028.7,634.7 1022,633.3 1019.3,637.3 1014,634.7 1011.3,629.3 1008.7,624 1006,620"/>
<polygon fill="#D9D9D9" stroke="#D9D9D9" points="988.7,630.7 995.3,632 999.3,626.7 998,621.3 1002,618.7 1006,620 1008.7,624 1011.3,629.3 1014,634.7 1019.3,637.3 1023.3,641.3 1022,645.3 1014,646.7 1010,646.7 1003.3,648 995.3,644 994,637.3"/>
<polygon fill="#D9D9D9" stroke="#D9D9D9" points="1020.7,593.3 1022,588 1023.3,593.3 1028.7,596 1034,598.7 1039.3,602.7 1043.3,605.3 1050,605.3 1050,628 1044.7,626.7 1039.3,622.7 1034,620 1031.3,613.3 1028.7,606.7 1024.7,601.3 1020.7,598.7"/>
<polygon fill="#FECE65" stroke="#FECE65" points="1026,612 1028.7,606.7 1031.3,613.3 1034,620 1039.3,622.7 1044.7,626.7 1050,628 1050,644 1043.3,641.3 1036.7,638.7 1032.7,633.3 1030,630.7 1028.7,624 1023.3,620 1020.7,614.7"/>
<polygon fill="#FFFACA" stroke="#FFFACA" points="947.3,634.7 954,630.7 959.3,626.7 960.7,622.7 967.3,621.3 972.7,618.7 975.3,620 980.7,622.7 986,625.3 988.7,630.7 994,637.3 995.3,644 990,645.3 983.3,643.3 976.7,645.3 970,646.7 964.7,644 962,642.7 955.3,644.7 948.7,644 949.3,640"/>
<polygon fill="#FFFFE5" stroke="#FFFFE5" points="962,642.7 964.7,644 970,646.7 976.7,645.3 983.3,643.3 990,645.3 995.3,644 1003.3,648 1010,646.7 1011.3,654.7 1010,662.7 1004.7,665.3 999.3,670.7 994,672 988.7,670.7 983.3,672 979.3,666.7 974,665.3 968.7,662.7 963.3,658.7 961.3,653.3 961.3,646.7"/>
<polygon fill="#FECE65" stroke="#FECE65" points="1010,646.7 1014,646.7 1022,645.3 1023.3,641.3 1028.7,634.7 1030,630.7 1032.7,633.3 1036.7,638.7 1035.3,644 1036.7,649.3 1039.3,657.3 1039.3,664 1035.3,672 1030,674.7 1023.3,677.3 1016.7,678.7 1010,677.3 1004.7,674.7 999.3,670.7 1004.7,665.3 1010,662.7 1011.3,654.7"/>
<polygon fill="#F27E1B" stroke="#F27E1B" points="976.7,674.7 980.7,670.7 983.3,672 988.7,670.7 994,672 999.3,670.7 1004.7,674.7 1010,677.3 1012.7,684 1010,689.3 1007.3,696 1006,700 966,700 970,693.3 972.7,686.7 975.3,680"/>
<polygon fill="#FEB642" stroke="#FEB642" points="970,678.7 976.7,674.7 975.3,680 972.7,686.7 970,693.3 966,700 960.7,700 963.3,693.3 967.3,686.7"/>
<polygon fill="#FE9929" stroke="#FE9929" points="936.7,693.3 943.3,690.7 948.7,688 954,690.7 955.3,700 940.7,700"/>
<polygon fill="#FFFACA" stroke="#FFFACA" points="903.3,673.3 908.7,670.7 916.7,672 922,677.3 924.7,684 920.7,689.3 916.7,694.7 914,700 888.7,700 887.3,686.7 888.7,678.7 895.3,672"/>
<polygon fill="#FFF0AE" stroke="#FFF0AE" points="952.7,678.7 959.3,673.3 966,672 970,678.7 967.3,686.7 963.3,693.3 960.7,700 955.3,700 954,690.7 951.3,684"/>
<polygon fill="#FFF0AE" stroke="#FFF0AE" points="900.7,658.7 906,653.3 912.7,645.3 918,645.3 924.7,648 930,651.3 935.3,650.7 942,650 946,652 944.7,654.7 943.3,660 942,665.3 939.3,669.3 932.7,672 924.7,673.3 922,677.3 916.7,672 908.7,670.7 903.3,673.3 899.3,666.7"/>
<polygon fill="#FEB642" stroke="#FEB642" points="867.3,630.7 876.7,629.3 887.3,630 895.3,630.7 900.7,628 903.3,630.7 907.3,637.3 911.3,642.7 912.7,645.3 906,653.3 900.7,658.7 899.3,666.7 894,665.3 887.3,669.3 880.7,672 876.7,672 871.3,668 870,660 867.3,653.3 868.7,646.7 872.7,642.7 879.3,644 882,640 876.7,636 871.3,634.7"/>
<polygon fill="#F27E1B" stroke="#F27E1B" points="850,613.3 858,612 867.3,609.3 872.7,605.3 878,600 883.3,598.7 887.3,600 891.3,604 894,610.7 896.7,616 900.7,620 900.7,628 895.3,630.7 887.3,630 876.7,629.3 867.3,630.7 860.7,630 854,628 850,629.3"/>
<polygon fill="#E1640E" stroke="#E1640E" points="850,629.3 854,628 860.7,630 867.3,630.7 871.3,634.7 876.7,636 882,640 879.3,644 872.7,642.7 868.7,646.7 867.3,653.3 870,660 868.7,666.7 863.3,666.7 858,661.3 852.7,657.3 850,654.7"/>
<polygon fill="#FECE65" stroke="#FECE65" points="854,585.3 858,581.3 862,576 867.3,574.7 875.3,569.3 882,564 890,561.3 887.3,570.7 886,578.7 883.3,585.3 884.7,593.3 887.3,600 883.3,598.7 878,600 872.7,605.3 867.3,609.3 866,601.3 864.7,593.3 858,588"/>
<polygon fill="#FFF0AE" stroke="#FFF0AE" points="850,586.7 854,585.3 858,588 864.7,593.3 866,601.3 867.3,609.3 858,612 850,613.3"/>
<polygon fill="#FEE391" stroke="#FEE391" points="850,660 852.7,657.3 858,661.3 863.3,666.7 868.7,666.7 871.3,668 876.7,672 880.7,677.3 882,684 879.3,689.3 872.7,693.3 866,696 858,697.3 850,700"/>
<polygon fill="#FFF0AE" stroke="#FFF0AE" points="903.3,370 910,366.7 916.7,364 922,360.7 919.3,354.7 914,349.3 910,344 912.7,336 916.7,329.3 922,325.3 932.7,326 940.7,332 950,333.3 959.3,334 967.3,330 970,329.3 970,401.3 963.3,402.7 956.7,401.3 950,405.3 946,405.3 940.7,400 935.3,394.7 927.3,390.7 922,385.3 916.7,378.7 910,373.3"/>
<polygon fill="#AA3C03" stroke="#AA3C03" points="886,385.3 892.7,378.7 898,373.3 903.3,370 910,373.3 916.7,378.7 922,385.3 927.3,390.7 935.3,394.7 940.7,400 946,405.3 950,405.3 956.7,401.3 963.3,402.7 970,401.3 970,417.3 964.7,420 966,426.7 963.3,432 970,434.7 970,440 964.7,442.7 956.7,444 950,445.3 944.7,448 939.3,450.7 935.3,448 930,448.7 927.3,444 924.7,438.7 926,432 923.3,426.7 918,422.7 911.3,422 909.3,418.7 910,414.7 903.3,410.7 899.3,405.3 895.3,400 892.7,392"/>
<polygon fill="#882F05" stroke="#882F05" points="866,393.3 871.3,389.3 880.7,388 886,385.3 892.7,392 895.3,400 899.3,405.3 903.3,410.7 910,414.7 909.3,418.7 903.3,421.3 895.3,420.7 890,422.7 892.7,429.3 895.3,437.3 898,442.7 902,448 896.7,448 890,446 884.7,442.7 876.7,441.3 868.7,442 864.7,441.3 864,437.3 871.3,436 874.7,433.3 870,428 870.7,422.7 868.7,418.7 864.7,416 863.3,410.7 861.3,406.7 866,401.3"/>
<polygon fill="#E1640E" stroke="#E1640E" points="890,422.7 895.3,420.7 903.3,421.3 911.3,422 918,422.7 923.3,426.7 926,432 924.7,438.7 927.3,444 930,448.7 926,453.3 923.3,458.7 921.3,464.7 915.3,464.7 908.7,462.7 910,456 907.3,450.7 902,448 898,442.7 895.3,437.3 892.7,429.3"/>
<polygon fill="#CC4C02" stroke="#CC4C02" points="921.3,464.7 923.3,458.7 926,453.3 930,448.7 935.3,448 936,453.3 936.7,460 940.7,461.3 944.7,458.7 951.3,457.3 954,461.3 956,466.7 952.7,470.7 946,472 942,476 936.7,478.7 930,477.3 926,474.7 922,470.7"/>
<polygon fill="#FECE65" stroke="#FECE65" points="935.3,448 939.3,450.7 944.7,448 950,445.3 956.7,444 964.7,442.7 970,440 970,470.7 964.7,470.7 959.3,469.3 956,466.7 954,461.3 951.3,457.3 944.7,458.7 940.7,461.3 936.7,460 936,453.3"/>
<polygon fill="#FFF0AE" stroke="#FFF0AE" points="911.3,465.3 915.3,464.7 921.3,464.7 922,470.7 926,474.7 930,477.3 936.7,478.7 942,476 946,472 952.7,470.7 956,466.7 959.3,469.3 964.7,470.7 966,477.3 962,481.3 963.3,488 956.7,492 948.7,496 940.7,500 930,501.3 920.7,498.7 916.7,493.3 910,488 903.3,489.3 901.3,484 903.3,477.3 906,472"/>
<polygon fill="#FEE391" stroke="#FEE391" points="852.7,506.7 856.7,498.7 860.7,492 867.3,485.3 872.7,478.7 876.7,474.7 882,470.7 887.3,472 894,469.3 902,466.7 911.3,465.3 906,472 903.3,477.3 901.3,484 903.3,489.3 898,493.3 892.7,497.3 890,504 891.3,510.7 894,516 895.3,520 819.3,520 820.7,514.7 826,510.7 832.7,514.7 838,516 844.7,514.7 851.3,512"/>
<polygon fill="#FEB642" stroke="#FEB642" points="890,504 892.7,497.3 898,493.3 903.3,489.3 910,488 916.7,493.3 918,498.7 916.7,502.7 911.3,505.3 916.7,510.7 922,516 926,520 895.3,520 894,516 891.3,510.7"/>
<polygon fill="#E1640E" stroke="#E1640E" points="911.3,505.3 916.7,502.7 920.7,498.7 930,501.3 940.7,500 948.7,496 943.3,502.7 939.3,508 936.7,513.3 935.3,520 926,520 922,516 916.7,510.7"/>
<polygon fill="#FEE391" stroke="#FEE391" points="948.7,496 956.7,492 963.3,488 970,486.7 970,520 935.3,520 936.7,513.3 939.3,508 943.3,502.7"/>
<polygon fill="#D9D9D9" stroke="#D9D9D9" points="944.7,500 950,494.7 956.7,492.7 959.3,498.7 963.3,504 967.3,510.7 966,514.7 959.3,513.3 954,506.7 948.7,505.3"/>
<polygon fill="#E1640E" stroke="#E1640E" points="958,492 962,488 970,486.7 970,510.7 967.3,510.7 963.3,504 959.3,498.7"/>
<polygon fill="#F27E1B" stroke="#F27E1B" points="784.7,485.3 792.7,486 799.3,489.3 802.7,492 800.7,497.3 806,501.3 814,504 820.7,508 823.3,512 819.3,516 816.7,520 788.7,520 786,513.3 783.3,506.7 783.3,496"/>
<polygon fill="#FEB642" stroke="#FEB642" points="694.7,478.7 708,474.7 714.7,478 721.3,476 729.3,472.7 738.7,469.3 744.7,470 747.3,478 745.3,483.3 740,488.7 736,494 730.7,496.7 732.7,502 728.7,506 730.7,510 736,512.7 738.7,516.7 736,524.7 733.3,531.3 726.7,532.7 718.7,534 714.7,538 709.3,532.7 711.3,528.7 705.3,522 700,514 701.3,507.3 705.3,504.7 713.3,502 712,495.3 708,490 707.3,483.3 700,482.7"/>
<polygon fill="#AA3C03" stroke="#AA3C03" points="683.3,497.3 688,491.3 694.7,488 700,482.7 707.3,483.3 708,490 712,495.3 713.3,502 705.3,504.7 701.3,503.3 694.7,504.7 685.3,504"/>
<polygon fill="#E1640E" stroke="#E1640E" points="736,524.7 738.7,516.7 745.3,520.7 756,522 760,527.3 766.7,531.3 773.3,538 774.7,546 777.3,552.7 773.3,558 776,566 774.7,570 766,572 764,567.3 761.3,562 757.3,556.7 754.7,548.7 750.7,547.3 745.3,548.7 742.7,543.3 740,536.7 733.3,531.3"/>
<polygon fill="#FFFFE5" stroke="#FFFFE5" points="712,540.7 714.7,538 718.7,534 726.7,532.7 733.3,531.3 740,536.7 742.7,543.3 745.3,548.7 750.7,547.3 754.7,548.7 755.3,555.3 752,563.3 749.3,568 745.3,566 740,560.7 736,556.7 732,555.3 726.7,551.3 721.3,548.7 717.3,546"/>
<polygon fill="#FECE65" stroke="#FECE65" points="673.3,521.3 680,522.7 686.7,526 696,530 693.3,536.7 694.7,543.3 695.3,547.3 690.7,551.3 681.3,548.7 676,543.3 673.3,538 681.3,535.3 681.3,530"/>
<polygon fill="#FE9929" stroke="#FE9929" points="696,530 704,530 709.3,532.7 714.7,538 712,540.7 717.3,546 721.3,548.7 720,555.3 718.7,560.7 713.3,564.7 716,568.7 708,570.7 705.3,566 700,559.3 696,555.3 690.7,551.3 695.3,547.3 694.7,543.3 693.3,536.7"/>
<polygon fill="#FFF0AE" stroke="#FFF0AE" points="732,555.3 736,556.7 740,560.7 745.3,566 749.3,568 752,563.3 755.3,555.3 757.3,556.7 761.3,562 764,567.3 766,572 774.7,570 778.7,578 774.7,580.7 766.7,583.3 758.7,587.3 756,591.3 758.7,595.3 764.7,597.3 761.3,600.7 754.7,602.7 749.3,600.7 744,604 740,600.7 737.3,599.3 740,594 742.7,588.7 740,583.3 736.7,578 738.7,571.3 736,564.7 732,559.3"/>
<polygon fill="#FEE391" stroke="#FEE391" points="774.7,570 776,566 780,564.7 785.3,570 790.7,572.7 796,576.7 798.7,572.7 798.7,566 805.3,566 812,570 820,571.3 826.7,575.3 828,583.3 821.3,584.7 814.7,584.7 809.3,582 801.3,581.3 797.3,578 790.7,579.3 784,582 778.7,578"/>
<polygon fill="#F27E1B" stroke="#F27E1B" points="785.3,484 793.3,486 801.3,489.3 802.7,492.7 799.3,498.7 806.7,502 814.7,503.3 820,507.3 825.3,511.3 818.7,516.7 817.3,522 817.3,528.7 806.7,528.7 801.3,531.3 801.3,538 797.3,542 792,542 789.3,535.3 784,532.7 782.7,535.3 782,530 778.7,526 784,524 785.3,519.3 788,515.3 784,511.3 783.3,503.3 785.3,496.7 784.7,490"/>
<polygon fill="#FEE391" stroke="#FEE391" points="817.3,528.7 817.3,522 818.7,516.7 825.3,511.3 832,512.7 837.3,516.7 845.3,515.3 850.7,512.7 852,506 857.3,502 856,496.7 860,492.7 860,524.7 853.3,526 849.3,531.3 845.3,530 846.7,526 840,523.3 833.3,526 830.7,528.7 826.7,527.3 825.3,532.7 820,532"/>
<polygon fill="#E1640E" stroke="#E1640E" points="800,582 809.3,582 814.7,584.7 821.3,584.7 828,583.3 832,588.7 832.7,596.7 832,604.7 826.7,610 824,615.3 818.7,616.7 813.3,612.7 806.7,614 800,611.3 798.7,606 801.3,599.3 800,595.3 796,594 800,590"/>
<polygon fill="#FFFFE5" stroke="#FFFFE5" points="826.7,578 833.3,576.7 844,575.3 849.3,570 852,575.3 849.3,582 853.3,587.3 858.7,591.3 856,596.7 852,600.7 846.7,602 838.7,603.3 832.7,602.7 832.7,596.7 832,588.7 828,583.3"/>
<polygon fill="#FFF0AE" stroke="#FFF0AE" points="826.7,610 832,604.7 832.7,602.7 838.7,603.3 846.7,602 852,600.7 856,596.7 860,595.3 860,611.3 852,612 844,612.7 836,614.7 828,615.3 825.3,614"/>
<polygon fill="#F27E1B" stroke="#F27E1B" points="782.7,624.7 788,619.3 796,618 800,611.3 806.7,614 813.3,612.7 818.7,616.7 824,615.3 828,615.3 833.3,616.7 834.7,623.3 836,630 837.3,639.3 838.7,650 820,650 816,646 810.7,642 804,639.3 796,638 788,636.7 780,639.3 777.3,636.7 782.7,635.3 786.7,630"/>
<polygon fill="#E1640E" stroke="#E1640E" points="833.3,616.7 836,614.7 844,612.7 852,612 860,611.3 860,650 838.7,650 837.3,639.3 836,630 834.7,623.3"/>
<polygon fill="#F27E1B" stroke="#F27E1B" points="845.3,623.3 850.7,618 860,615.3 860,630 853.3,628.7 848,626"/>
<polygon fill="#FFFACA" stroke="#FFFACA" points="741.3,633.3 746.7,636.7 753.3,640.7 758.7,644.7 760,650 740,650 742.7,642"/>
<polygon fill="#FFFACA" stroke="#FFFACA" points="886.7,680 921.3,680 922.7,688 925.3,696 918.7,702.7 913.3,705.3 910.7,710 905.3,710.7 897.3,708 890.7,710.7 885.3,706.7 884.7,701.3 888,693.3 887.3,686.7"/>
<polygon fill="#FFF0AE" stroke="#FFF0AE" points="913.3,705.3 918.7,702.7 925.3,696 930.7,700 934.7,704 940,708 946.7,708.7 953.3,708 961.3,706 968,705.3 970.7,708 965.3,710.7 958.7,715.3 953.3,718.7 948,722.7 944,717.3 934.7,720 929.3,721.3 924,718.7 918.7,714.7 913.3,713.3 910.7,710"/>
<polygon fill="#FFF0AE" stroke="#FFF0AE" points="860,680 882,680 881.3,685.3 876,688 869.3,692 864,694.7 860,696"/>
<polygon fill="#FE9929" stroke="#FE9929" points="936,693.3 942.7,690.7 952,688 954.7,692 954,700 948,699.3 942.7,697.3 938.7,696"/>
<polygon fill="#FFFACA" stroke="#FFFACA" points="953.3,680 973.3,680 970.7,686.7 965.3,692 961.3,698.7 954.7,700 954.7,692 952,688 956,685.3"/>
<polygon fill="#FEB642" stroke="#FEB642" points="961.3,698.7 965.3,692 970.7,686.7 973.3,680 978.7,680 981.3,685.3 988,686.7 992,690.7 985.3,693.3 981.3,697.3 980,702.7 978.7,708.7 973.3,707.3 968,705.3 964,704 962.7,701.3"/>
<polygon fill="#F27E1B" stroke="#F27E1B" points="978.7,680 1004,680 1010.7,684 1013.3,686.7 1009.3,692 1012,700 1014.7,709.3 1015.3,714.7 1010.7,717.3 1004,715.3 1000,710.7 996,705.3 992,701.3 988,696 985.3,693.3 992,690.7 988,686.7 981.3,685.3"/>
<polygon fill="#FFFFE5" stroke="#FFFFE5" points="1013.3,686.7 1020,682.7 1026.7,680 1034.7,680 1037.3,686.7 1040,693.3 1036,698.7 1033.3,705.3 1029.3,709.3 1024,712 1020,714.7 1015.3,714.7 1014.7,709.3 1012,700 1009.3,692"/>
<polygon fill="#FFF0AE" stroke="#FFF0AE" points="1038.7,713.3 1044,709.3 1050.7,706.7 1056,702.7 1060,701.3 1060,722.7 1054.7,721.3 1049.3,720 1045.3,716"/>
<polygon fill="#FFFFE5" stroke="#FFFFE5" points="930.7,724 934.7,720 944,717.3 948,722.7 953.3,718.7 958.7,715.3 960,721.3 961.3,726.7 958.7,730.7 961.3,734.7 966.7,735.3 970.7,740 971.3,746.7 968,748 961.3,746.7 953.3,745.3 948,746.7 942.7,745.3 937.3,746.7 934.7,742.7 938.7,737.3 942.7,733.3 941.3,728 936,726.7"/>
<polygon fill="#FFFACA" stroke="#FFFACA" points="920,760 922.7,756 929.3,754.7 934.7,752 937.3,746.7 942.7,745.3 948,746.7 953.3,745.3 961.3,746.7 968,748 971.3,746.7 973.3,752 969.3,757.3 966.7,761.3 961.3,765.3 956,764 952,761.3 946.7,762.7 940,761.3 934.7,760 928,762.7 922.7,762.7"/>
<polygon fill="#FFFACA" stroke="#FFFACA" points="888.7,712 890.7,710.7 897.3,708 905.3,710.7 913.3,713.3 918.7,714.7 924,718.7 929.3,721.3 930.7,724 928,729.3 928.7,736 928,742.7 922.7,744 916,745.3 910.7,744 905.3,746.7 898.7,750 900,744 901.3,738.7 897.3,734.7 904,730.7 906.7,724 902.7,720 896,718.7 892,716"/>
<polygon fill="#FECE65" stroke="#FECE65" points="966.7,735.3 970.7,730.7 974.7,728 980,726.7 986.7,724 993.3,720 998.7,717.3 1004,715.3 1010.7,717.3 1015.3,714.7 1020,714.7 1024,712 1028,710 1032,712 1029.3,717.3 1024,721.3 1025.3,729.3 1020,733.3 1014.7,733.3 1009.3,737.3 1004,734.7 997.3,734.7 992,736 988,740 982.7,742.7 977.3,744 972,742.7 970.7,740"/>
<polygon fill="#FFF0AE" stroke="#FFF0AE" points="971.3,746.7 970.7,740 972,742.7 977.3,744 982.7,742.7 988,740 992,736 997.3,734.7 1004,734.7 1009.3,737.3 1014.7,733.3 1020,733.3 1022.7,738.7 1025.3,746.7 1029.3,752 1024,754.7 1017.3,757.3 1014.7,762.7 1009.3,768 1005.3,765.3 1000,762.7 996,765.3 990.7,768 984,770.7 978.7,772 977.3,765.3 980,761.3 985.3,759.3 980,756 974.7,757.3 969.3,757.3 973.3,752"/>
<polygon fill="#FEE391" stroke="#FEE391" points="966.7,761.3 969.3,757.3 974.7,757.3 980,756 985.3,759.3 980,761.3 977.3,765.3 978.7,772 973.3,773.3 969.3,772 966.7,766.7"/>
<polygon fill="#D9D9D9" stroke="#D9D9D9" points="978.7,764 984,760 988,759.3 993.3,761.3 998.7,763.3 996,765.3 990.7,768 984,770.7 978.7,772"/>
<polygon fill="#D9D9D9" stroke="#D9D9D9" points="958.7,770.7 961.3,765.3 966.7,761.3 966.7,766.7 969.3,772 973.3,773.3 970.7,777.3 968,782.7 965.3,786.7 962.7,778.7 960,774.7"/>
<polygon fill="#FECE65" stroke="#FECE65" points="968,782.7 970.7,777.3 973.3,773.3 978.7,772 984,770.7 990.7,768 996,765.3 1000,762.7 1005.3,765.3 1009.3,768 1014.7,762.7 1017.3,757.3 1024,754.7 1029.3,752 1033.3,757.3 1036,762.7 1040,766.7 1036,770.7 1037.3,777.3 1033.3,784 1026.7,789.3 1024,796 1025.3,801.3 1020,797.3 1018.7,792 1016,785.3 1013.3,784 1009.3,790.7 1004,796 996,797.3 992,801.3 985.3,804 980,806.7 973.3,808 969.3,805.3 970.7,798.7 966.7,796 965.3,790.7"/>
<polygon fill="#FE9929" stroke="#FE9929" points="966.7,818.7 969.3,812 973.3,808 980,806.7 985.3,804 992,801.3 996,797.3 1004,796 1009.3,790.7 1013.3,784 1016,785.3 1018.7,792 1020,797.3 1025.3,801.3 1022.7,808 1018.7,814.7 1014.7,820 1012,826.7 1010.7,833.3 1009.3,840 1008,849.3 1002.7,846.7 998.7,845.3 992,846.7 985.3,849.3 977.3,850.7 973.3,846.7 976,842.7 977.3,838.7 982.7,836 984,832 980,829.3 973.3,829.3 968,826.7"/>
<polygon fill="#FECE65" stroke="#FECE65" points="944,773.3 945.3,765.3 952,761.3 956,764 961.3,765.3 958.7,770.7 960,774.7 962.7,778.7 965.3,786.7 965.3,790.7 966.7,796 970.7,798.7 969.3,805.3 966.7,809.3 962.7,810.7 960,804 956,798.7 953.3,793.3 950.7,789.3 952,784 948,778.7"/>
<polygon fill="#FFFFE5" stroke="#FFFFE5" points="874.7,798.7 878.7,793.3 881.3,786.7 886.7,781.3 892,776 896,772 904,772 912,772 917.3,776 924,780 930.7,777.3 937.3,776 944,773.3 948,778.7 952,784 950.7,789.3 948,793.3 949.3,800 946.7,805.3 941.3,808 934.7,809.3 929.3,808 926.7,802.7 925.3,797.3 920,793.3 913.3,792 906.7,792 905.3,797.3 906.7,804 900,804 893.3,805.3 889.3,808 884,813.3 880,809.3 877.3,804"/>
<polygon fill="#FFFACA" stroke="#FFFACA" points="905.3,797.3 906.7,792 913.3,792 920,793.3 925.3,797.3 926.7,802.7 929.3,808 928.7,813.3 930.7,818.7 932,826.7 929.3,833.3 925.3,836 924,844 918.7,845.3 913.3,846.7 910.7,840 908,837.3 904,840 900,837.3 901.3,832 905.3,826.7 908,820 910.7,816 906.7,812 906.7,804"/>
<polygon fill="#FEB642" stroke="#FEB642" points="1014.7,820 1018.7,814.7 1024,813.3 1029.3,814.7 1034.7,818.7 1040,821.3 1044,818.7 1050.7,824 1049.3,830.7 1046.7,836 1045.3,842.7 1038.7,845.3 1034.7,850.7 1029.3,846.7 1025.3,845.3 1020,842.7 1014.7,841.3 1009.3,840 1010.7,833.3 1012,826.7"/>
<polygon fill="#FFF0AE" stroke="#FFF0AE" points="1050.7,824 1056,820 1060,817.3 1060,840 1054.7,841.3 1049.3,840 1046.7,836 1049.3,830.7"/>
<polygon fill="#FEB642" stroke="#FEB642" points="1056,842.7 1060,840 1060,853.3 1055.3,850.7"/>
<polygon fill="#FECE65" stroke="#FECE65" points="998.7,845.3 1002.7,846.7 1008,849.3 1009.3,840 1014.7,841.3 1020,842.7 1025.3,845.3 1029.3,846.7 1032,853.3 1029.3,860 1025.3,866.7 1020,870.7 1013.3,872 1006.7,873.3 1001.3,880 998.7,880 997.3,872 998.7,864 1001.3,857.3 1002.7,850.7"/>
<polygon fill="#FFF0AE" stroke="#FFF0AE" points="973.3,853.3 977.3,850.7 985.3,849.3 992,846.7 998.7,845.3 1002.7,850.7 1001.3,857.3 998.7,864 997.3,872 998.7,880 964,880 965.3,873.3 970.7,866.7 976,864 974.7,858.7"/>
<polygon fill="#FFF0AE" stroke="#FFF0AE" points="940,880 945.3,874.7 953.3,872 961.3,869.3 965.3,873.3 964,880"/>
<polygon fill="#FFFFE5" stroke="#FFFFE5" points="1005.3,880 1008,874.7 1014.7,872.7 1020,870.7 1025.3,872 1024,880"/>
<polygon fill="#E1640E" stroke="#E1640E" points="868,880 874.7,876 877.3,869.3 882.7,866.7 885.3,864 886.7,868 890.7,870.7 891.3,876 889.3,880"/>
<polygon fill="#FE9929" stroke="#FE9929" points="860,742.7 862.7,746.7 862.7,756 866.7,770.7 862.7,774.7 860,776"/>
<polygon fill="#FEB642" stroke="#FEB642" points="1066.7,725.3 1070.7,721.3 1076,714.7 1077.3,706.7 1078.7,702.7 1085.3,698.7 1086.7,693.3 1092,688 1096,682.7 1098.7,682 1102.7,686 1108,688 1113.3,692 1110.7,694.7 1109.3,700 1113.3,704.7 1112,706.7 1108,710.7 1104,714.7 1101.3,718.7 1097.3,720 1094.7,724 1089.3,726.7 1085.3,730.7 1081.3,729.3 1077.3,728 1072,730.7"/>
<polygon fill="#FECE65" stroke="#FECE65" points="1109.3,700 1110.7,694.7 1113.3,692 1120,686.7 1122.7,684 1126.7,688 1130.7,693.3 1126.7,696 1126.7,700 1121.3,704 1116,705.3 1113.3,704.7"/>
<polygon fill="#FECE65" stroke="#FECE65" points="1100,680 1125.3,680 1122.7,684 1120,686.7 1113.3,692 1108,688 1102.7,686"/>
<polygon fill="#FFF0AE" stroke="#FFF0AE" points="1125.3,680 1145.3,680 1147.3,685.3 1146.7,690 1138.7,690.7 1132,693.3 1130.7,693.3 1126.7,688 1122.7,684"/>
<polygon fill="#FE9929" stroke="#FE9929" points="1121.3,704 1126.7,700 1132,701.3 1137.3,705.3 1141.3,709.3 1146.7,714.7 1148.7,716 1145.3,720 1146.7,725.3 1148,732 1145.3,734.7 1140,732 1137.3,733.3 1132,733.3 1129.3,729.3 1128,724 1125.3,717.3 1124,710.7"/>
<polygon fill="#FFF0AE" stroke="#FFF0AE" points="1101.3,718.7 1104,714.7 1108,710.7 1112,706.7 1116,705.3 1121.3,704 1124,710.7 1125.3,717.3 1128,724 1125.3,728 1120,729.3 1116,726.7 1112,724 1108,726.7 1105.3,722.7"/>
<polygon fill="#882F05" stroke="#882F05" points="1085.3,730.7 1089.3,726.7 1094.7,724 1097.3,720 1101.3,718.7 1105.3,722.7 1108,726.7 1112,724 1116,726.7 1118.7,730.7 1117.3,737.3 1112,740 1108,738.7 1104,741.3 1098.7,742.7 1096,746.7 1092,746.7 1089.3,741.3 1086.7,737.3"/>
<polygon fill="#CC4C02" stroke="#CC4C02" points="1112,740 1117.3,737.3 1118.7,730.7 1120,729.3 1125.3,728 1129.3,729.3 1132,733.3 1137.3,733.3 1140,732 1142,737.3 1140,744 1138.7,752 1133.3,757.3 1128,761.3 1126.7,756 1129.3,750.7 1126.7,746.7 1120,745.3 1114.7,746.7 1110.7,745.3 1109.3,742.7"/>
<polygon fill="#FEB642" stroke="#FEB642" points="1073.3,749.3 1078.7,745.3 1084,742.7 1089.3,741.3 1092,746.7 1096,746.7 1098.7,742.7 1104,741.3 1108,738.7 1109.3,742.7 1110.7,745.3 1109.3,750.7 1112,756 1109.3,760 1102.7,762.7 1097.3,764 1094.7,768 1094.7,772 1090.7,770.7 1086.7,774.7 1080,776 1077.3,772 1078,766.7 1074.7,761.3 1073.3,756"/>
<polygon fill="#FE9929" stroke="#FE9929" points="1094.7,768 1097.3,764 1102.7,762.7 1109.3,760 1112,756 1109.3,750.7 1110.7,745.3 1114.7,746.7 1120,745.3 1126.7,746.7 1129.3,750.7 1126.7,756 1128,761.3 1124,765.3 1120,770.7 1116,774.7 1113.3,782.7 1112,778.7 1106.7,777.3 1101.3,778.7 1097.3,777.3 1095.3,773.3"/>
<polygon fill="#FFF0AE" stroke="#FFF0AE" points="1069.3,800 1070.7,793.3 1074.7,788 1080,785.3 1084,781.3 1088,776 1090.7,770.7 1094.7,772 1095.3,773.3 1097.3,777.3 1101.3,778.7 1106.7,777.3 1112,778.7 1108,785.3 1104,790.7 1100,796 1093.3,797.3 1089.3,797.3 1080,798.7 1074.7,800"/>
<polygon fill="#FFFFE5" stroke="#FFFFE5" points="1069.3,812 1070.7,806.7 1074.7,800 1080,798.7 1089.3,797.3 1093.3,797.3 1098.7,800 1100,805.3 1094.7,809.3 1094.7,814.7 1093.3,821.3 1086.7,825.3 1082.7,821.3 1077.3,820 1072,820 1066.7,820 1065.3,816"/>
<polygon fill="#FFFACA" stroke="#FFFACA" points="1048,838.7 1049.3,829.3 1056,824 1057.3,817.3 1065.3,816 1066.7,820 1068,826.7 1070.7,830.7 1077.3,833.3 1082.7,832 1080,837.3 1074.7,842.7 1070.7,848 1065.3,852 1064,845.3 1057.3,841.3 1053.3,840"/>
<polygon fill="#FECE65" stroke="#FECE65" points="1068,821.3 1072,820 1077.3,820 1082.7,821.3 1085.3,826.7 1086.7,832 1082.7,832 1077.3,833.3 1070.7,830.7 1068,826.7"/>
<polygon fill="#FEB642" stroke="#FEB642" points="1055.3,845.3 1057.3,841.3 1064,845.3 1065.3,852 1061.3,851.3 1057.3,852"/>
<polygon fill="#FEB642" stroke="#FEB642" points="1040,820 1042.7,818.7 1049.3,822.7 1050.7,826.7 1048,830.7 1045.3,838.7 1040,838.7"/>
<polygon fill="#FFF0AE" stroke="#FFF0AE" points="1040,712 1045.3,709.3 1053.3,705.3 1056,700 1060,698.7 1064,704 1069.3,709.3 1076,708 1076,714.7 1070.7,721.3 1066.7,725.3 1062.7,725.3 1058.7,721.3 1053.3,718.7 1046.7,718.7 1042.7,714.7"/>
<polygon fill="#F27E1B" stroke="#F27E1B" points="786,620 836.7,620 835.3,626.7 836.7,636 838,646.7 835.3,652 830,650.7 823.3,649.3 818,646.7 814,644 807.3,642.7 800.7,642 794,640 788.7,638.7 783.3,638.7 778,640 776.7,637.3 783.3,636 786,630.7 782,625.3"/>
<polygon fill="#E1640E" stroke="#E1640E" points="836.7,620 890,620 890,628 882,628 874,630.7 876.7,636 882,640 880.7,644 874,644.7 868.7,646.7 867.3,653.3 868.7,660 870,666.7 863.3,664 856.7,658.7 850,654.7 843.3,653.3 835.3,652 838,646.7 836.7,636 835.3,626.7"/>
<polygon fill="#F27E1B" stroke="#F27E1B" points="846,620 890,620 890,628 882,628 874,630.7 867.3,629.3 860.7,628 852.7,626.7 847.3,624"/>
<polygon fill="#FEB642" stroke="#FEB642" points="868.7,646.7 874,644.7 880.7,644 882,640 876.7,636 874,630.7 882,628 890,628 890,664 883.3,666.7 876.7,670.7 870,666.7 868.7,660 867.3,653.3"/>
<polygon fill="#FFFACA" stroke="#FFFACA" points="738,657.3 740.7,652 739.3,645.3 743.3,641.3 742,633.3 747.3,637.3 752.7,641.3 759.3,645.3 764.7,650.7 770,653.3 771.3,660 772.7,665.3 776.7,670.7 780.7,676 783.3,682.7 784.7,689.3 786,694.7 788.7,697.3 785.3,698.7 782,694.7 780.7,689.3 776.7,685.3 772.7,682.7 770,686.7 766,682.7 762,677.3 756.7,673.3 751.3,669.3 746,665.3 743.3,660"/>
<polygon fill="#FFFFE5" stroke="#FFFFE5" points="776.7,670.7 783.3,668 791.3,665.3 796.7,664 800.7,669.3 806,673.3 808.7,678.7 806,684 803.3,688 800.7,692 795.3,693.3 791.3,696 788.7,697.3 786,694.7 784.7,689.3 783.3,682.7 780.7,676"/>
<polygon fill="#FFF0AE" stroke="#FFF0AE" points="803.3,688 806,684 808.7,678.7 812.7,676 818,670.7 822,665.3 823.3,660 827.3,656 832.7,655.3 840.7,654.7 839.3,660 844.7,665.3 842,670.7 838,673.3 835.3,680 831.3,684 828.7,689.3 823.3,690.7 820.7,697.3 815.3,705.3 810,710.7 804.7,709.3 802,705.3 796.7,704 792.7,705.3 786,701.3 785.3,698.7 788.7,697.3 791.3,696 795.3,693.3 800.7,692"/>
<polygon fill="#FEE391" stroke="#FEE391" points="788.7,697.3 791.3,696 795.3,693.3 800.7,692 803.3,688 810,690.7 815.3,694.7 819.3,698.7 815.3,705.3 810,710.7 804.7,709.3 802,705.3 796.7,704 792.7,705.3 786,701.3 785.3,698.7"/>
<polygon fill="#FFF0AE" stroke="#FFF0AE" points="840.7,654.7 843.3,653.3 850,654.7 856.7,658.7 863.3,664 870,666.7 876.7,670.7 880.7,676 882,682.7 879.3,688 874,689.3 868.7,692 863.3,696 858,694.7 852.7,697.3 847.3,697.3 843.3,698.7 840.7,702.7 836.7,700 834,705.3 828.7,706.7 824.7,702.7 823.3,697.3 820.7,697.3 823.3,690.7 828.7,689.3 831.3,684 835.3,680 838,673.3 842,670.7 844.7,665.3 839.3,660"/>
<polygon fill="#FECE65" stroke="#FECE65" points="767.3,698.7 770,686.7 772.7,682.7 776.7,685.3 780.7,689.3 782,694.7 785.3,698.7 782,701.3 778,705.3 772.7,702.7"/>
<polygon fill="#FEE391" stroke="#FEE391" points="720.7,690.7 726,688 731.3,684 734,677.3 738,674.7 740.7,678.7 744.7,685.3 750,688 755.3,690.7 762,696 759.3,702.7 754,708 748.7,706.7 743.3,702.7 739.3,702 734,705.3 728.7,705.3 723.3,704 724.7,697.3"/>
<polygon fill="#FFFACA" stroke="#FFFACA" points="716.7,724 720.7,718.7 723.3,712 728.7,705.3 734,705.3 739.3,702 743.3,702.7 748.7,706.7 754,708 754,713.3 750,718.7 746,721.3 746,730.7 743.3,736 739.3,740 734,742.7 730,749.3 727.3,748 724.7,742.7 722,744 720.7,737.3 718,732"/>
<polygon fill="#FEE391" stroke="#FEE391" points="750,718.7 754,713.3 759.3,712 764.7,711.3 770,716 772.7,721.3 774,726.7 775.3,730.7 778,736 783.3,740 788.7,738.7 792.7,740 795.3,745.3 794,749.3 790,744 786,744 783.3,748 780.7,750.7 783.3,754.7 786,758.7 791.3,758.7 795.3,761.3 795.3,765.3 791.3,768 786,768 780.7,769.3 775.3,768 772.7,765.3 774,760 772.7,753.3 771.3,746.7 770,740 770.7,737.3 770.7,730.7 767.3,726.7 762,725.3 758,726.7 754,722.7 750,720.7"/>
<polygon fill="#F27E1B" stroke="#F27E1B" points="744.7,725.3 746,721.3 750,720.7 754,722.7 758,726.7 762,725.3 767.3,726.7 770.7,730.7 770.7,737.3 766,736 760.7,734.7 758,730.7 752.7,730.7 747.3,730.7"/>
<polygon fill="#FECE65" stroke="#FECE65" points="772.7,724 775.3,718.7 779.3,712 778.7,706.7 783.3,701.3 786,701.3 792.7,705.3 796.7,704 802,705.3 804.7,709.3 810,710.7 808.7,718.7 808.7,726.7 806,732 800.7,733.3 798,736 796.7,740 795.3,745.3 792.7,740 788.7,738.7 783.3,737.3 782,732 778,729.3 775.3,726.7"/>
<polygon fill="#FFFFE5" stroke="#FFFFE5" points="810,710.7 815.3,705.3 820.7,700 823.3,697.3 824.7,702.7 828.7,706.7 834,705.3 836.7,710.7 836.7,716 834,721.3 832.7,726.7 831.3,732 826,732 820.7,732 819.3,736 815.3,740 811.3,738.7 808.7,742.7 804.7,748 802,746.7 799.3,742.7 798,740 796.7,740 798,736 800.7,733.3 806,732 808.7,726.7 808.7,718.7"/>
<polygon fill="#FECE65" stroke="#FECE65" points="834,705.3 836.7,700 840.7,702.7 844.7,705.3 846,713.3 850,718.7 854,724 858,729.3 860.7,736 862,744 860.7,750.7 856.7,757.3 852.7,754.7 850,750.7 846,748 843.3,742.7 840.7,737.3 836.7,734.7 831.3,732 832.7,726.7 834,721.3 836.7,716 836.7,710.7"/>
<polygon fill="#FE9929" stroke="#FE9929" points="828.7,756 831.3,750.7 835.3,745.3 836.7,737.3 838,736 840.7,737.3 843.3,742.7 846,748 850,750.7 852.7,754.7 856.7,757.3 860.7,753.3 863.3,758.7 864.7,765.3 866.7,770.7 862,774.7 856.7,777.3 852.7,782.7 850,778.7 843.3,774.7 836.7,777.3 831.3,778.7 827.3,776 830,770.7 828.7,764"/>
<polygon fill="#FEE391" stroke="#FEE391" points="718.7,778.7 722,776 726,772 730,766.7 731.3,760 735.3,756 739.3,753.3 738,748 743.3,745.3 748.7,746 750,750.7 748.7,754.7 751.3,760 754,764 758,765.3 762,762.7 766,760 770,761.3 772.7,765.3 772.7,770.7 770,776 764.7,778.7 759.3,777.3 754,778.7 750,776 746,780 742,777.3 738,784 734,788 730,790.7 726,796 722,797.3 720.7,790.7 718.7,785.3"/>
<polygon fill="#FFFACA" stroke="#FFFACA" points="735.3,786.7 738,784 742,777.3 746,780 750,776 754,778.7 759.3,777.3 764.7,778.7 770,776 772.7,770.7 780.7,769.3 786,768 791.3,768 796.7,772 803.3,774.7 800.7,780 795.3,784 791.3,789.3 790,794.7 788.7,800 782,801.3 776.7,800 771.3,794.7 767.3,790.7 762,789.3 756.7,792 752.7,796 746,798.7 739.3,798.7 738,793.3"/>
<polygon fill="#FE9929" stroke="#FE9929" points="754,820 755.3,813.3 758,806.7 759.3,798.7 762,790.7 767.3,790.7 771.3,794.7 776.7,800 775.3,806.7 780.7,809.3 776.7,813.3 772.7,816 771.3,820"/>
<polygon fill="#F27E1B" stroke="#F27E1B" points="764.7,812 770,809.3 772.7,816 771.3,820 766,820"/>
<polygon fill="#FEB642" stroke="#FEB642" points="790,792 795.3,788 800.7,784 807.3,780 814,778.7 815.3,784 814,790.7 810,794.7 807.3,800 806,806.7 800.7,805.3 796.7,800 792.7,797.3"/>
<polygon fill="#E1640E" stroke="#E1640E" points="815.3,776 818,778.7 822,781.3 826,784 823.3,788 826,793.3 822,797.3 816.7,800 818,805.3 823.3,806.7 828.7,810.7 836.7,812 835.3,820 794,820 794,809.3 800.7,806.7 806,806.7 807.3,800 810,794.7 814,790.7 815.3,784"/>
<polygon fill="#FFFFE5" stroke="#FFFFE5" points="876.7,788 882,784 890,781.3 890,809.3 883.3,806.7 878,802.7 875.3,796"/>
<polygon fill="#FE9929" stroke="#FE9929" points="690,808 695.3,812 702,809.3 706,813.3 704.7,820 690,820"/>
<polygon fill="#FFF0AE" stroke="#FFF0AE" points="886,678.7 890,676 890,712 886,709.3 884.7,701.3 887.3,694.7 886,686.7"/>
<polygon fill="#FFF0AE" stroke="#FFF0AE" points="628.7,821.3 631.3,815.3 632.7,810 638,806 642,799.3 647.3,796.7 656.7,796 662,798 663.3,804.7 666,810 670,808.7 674,808.7 674.7,815.3 674,823.3 675.3,830 671.3,834 670,842 664.7,844 658,845.3 655.3,842 656.7,838 652.7,835.3 647.3,836 642,834 638,828.7 634,824.7"/>
<polygon fill="#FEB642" stroke="#FEB642" points="674,808.7 678,804.7 686,802 690,803.3 694,810 699.3,811.3 704.7,809.3 706,816.7 707.3,823.3 706,830 706,836.7 702,840.7 698,844.7 695.3,850 698,855.3 694,857.3 687.3,857.3 682,855.3 678,852.7 675.3,847.3 671.3,844.7 670,842 671.3,834 675.3,830 674,823.3 674.7,815.3"/>
<polygon fill="#FE9929" stroke="#FE9929" points="611.3,827.3 615.3,823.3 620.7,818 624.7,818.7 628.7,821.3 634,824.7 638,828.7 642,834 647.3,836 652.7,835.3 651.3,840.7 647.3,846 644.7,852.7 640.7,858 636.7,854 632.7,856.7 627.3,859.3 624,860.7 623.3,852.7 619.3,848.7 618,844.7 614,839.3 612.7,834"/>
<polygon fill="#F27E1B" stroke="#F27E1B" points="662,847.3 664.7,844 670,842 671.3,844.7 675.3,847.3 678,852.7 682,855.3 687.3,857.3 694,857.3 698,855.3 695.3,850 698,844.7 702,840.7 704.7,843.3 703.3,850 706,852.7 712.7,850 716.7,848.7 718,842 720.7,842 722,850 723.3,856.7 722,862 715.3,863.3 708.7,863.3 703.3,866 702,871.3 704.7,876.7 700.7,880.7 695.3,883.3 695.3,888.7 694,894 699.3,898 703.3,900.7 695.3,903.3 691.3,904.7 688.7,906 686,900.7 680.7,899.3 672.7,900 666,902 662,904.7 655.3,908.7 652.7,914 646,913.3 639.3,912.7 634.7,910.7 636.7,904.7 639.3,898 640.7,892.7 643.3,887.3 646,884.7 655.3,883.3 656.7,876.7 662,872.7 663.3,863.3 664.7,856.7"/>
<polygon fill="#FE9929" stroke="#FE9929" points="703.3,866 708.7,863.3 715.3,863.3 722,862 723.3,856.7 722,850 728.7,850 736.7,845.3 743.3,850 739.3,855.3 735.3,860.7 734,866 735.3,874 739.3,879.3 741.3,886 742,892.7 743.3,902 739.3,896.7 735.3,895.3 732.7,900 730,895.3 726,899.3 722,903.3 718,899.3 712.7,896.7 708.7,895.3 706,900.7 703.3,900.7 699.3,898 694,894 695.3,888.7 695.3,883.3 700.7,880.7 704.7,876.7 702,871.3"/>
<polygon fill="#FE9929" stroke="#FE9929" points="743.3,894.7 748.7,893.3 747.3,896.7 743.3,902"/>
<polygon fill="#FE9929" stroke="#FE9929" points="751.3,820.7 754,815.3 756.7,807.3 759.3,798 762,791.3 764.7,790 767.3,795.3 771.3,799.3 776.7,803.3 780,808.7 775.3,811.3 771.3,814 767.3,810 763.3,810 762,816.7 762,823.3 760.7,828.7 759.3,834 755.3,828.7"/>
<polygon fill="#F27E1B" stroke="#F27E1B" points="755.3,844.7 759.3,838 760.7,828.7 762,823.3 762,816.7 763.3,810 767.3,810 771.3,814 776.7,819.3 782,824.7 787.3,827.3 790,823.3 790,847.3 784.7,846 779.3,842 774,840.7 770,839.3 766,844.7 760.7,847.3"/>
<polygon fill="#FFFACA" stroke="#FFFACA" points="740,780 798.7,780 797.3,784 794.7,789.3 790.7,794.7 784,800 778.7,801.3 773.3,797.3 768,794.7 765.3,790 760,794.7 753.3,796 746.7,797.3 740,798.7"/>
<polygon fill="#FE9929" stroke="#FE9929" points="750.7,822.7 753.3,817.3 754.7,809.3 757.3,801.3 760,794.7 765.3,790 768,794.7 772,800 777.3,804 780,808 774.7,810.7 770.7,813.3 766.7,809.3 762.7,812 762,820 761.3,826.7 760,832 757.3,829.3 753.3,826.7"/>
<polygon fill="#F27E1B" stroke="#F27E1B" points="756,844 758.7,837.3 760,832 761.3,826.7 762,820 762.7,812 766.7,809.3 770.7,813.3 774.7,818.7 780,824 784,826.7 786.7,824 790.7,826.7 796,829.3 798.7,830.7 798.7,836 793.3,838.7 790.7,842.7 789.3,846.7 784,844 780,842.7 776,840 772,838.7 766.7,841.3 762.7,845.3 758.7,846.7"/>
<polygon fill="#FEB642" stroke="#FEB642" points="790.7,794.7 794.7,789.3 797.3,784 800,780 814.7,780 815.3,785.3 813.3,790.7 809.3,794.7 806.7,800 805.3,805.3 800,804.7 796,800 792,797.3"/>
<polygon fill="#E1640E" stroke="#E1640E" points="814.7,780 824,780 825.3,785.3 824.7,790.7 826.7,793.3 822.7,797.3 817.3,800 820,802.7 826.7,805.3 829.3,809.3 837.3,812 834.7,818.7 838.7,824 836,828 833.3,833.3 828,834.7 824,830.7 820,829.3 817.3,825.3 813.3,824 809.3,828 805.3,832 798.7,833.3 798.7,830.7 797.3,825.3 797.3,820 793.3,818.7 793.3,812 794.7,806.7 800,804.7 805.3,805.3 806.7,800 809.3,794.7 813.3,790.7 815.3,785.3"/>
<polygon fill="#E1640E" stroke="#E1640E" points="860,881.3 865.3,879.3 870.7,877.3 874.7,874.7 876,870.7 880,867.3 884,866.7 884.7,863.3 886,863.3 886,866.7 890.7,868.7 891.3,876 892,882.7 888,888 882.7,890.7 877.3,888.7 873.3,890.7 870,897.3 866.7,893.3 862.7,888"/>
<polygon fill="#FFFACA" stroke="#FFFACA" points="874.7,797.3 878.7,792 881.3,785.3 886.7,781.3 893.3,780 940,780 940,808 933.3,808 929.3,812 930.7,820 932,828 930.7,833.3 926.7,834.7 925.3,841.3 921.3,845.3 914.7,846.7 910.7,842.7 909.3,836 904,838.7 901.3,836 904,830.7 906.7,824 908,818.7 906.7,812 905.3,805.3 900,804 892,804.7 888,809.3 882.7,813.3 877.3,808.7 878.7,802.7"/>
<polygon fill="#FFFFE5" stroke="#FFFFE5" points="874.7,797.3 878.7,792 881.3,785.3 886.7,781.3 893.3,780 924,780 920,788 912,792 906.7,793.3 904,798.7 901.3,804 892,804.7 888,809.3 882.7,813.3 877.3,808.7 878.7,802.7"/>
<polygon fill="#FFFFE5" stroke="#FFFFE5" points="885.3,921.3 886.7,913.3 893.3,910.7 894.7,905.3 900,900 906.7,898.7 913.3,901.3 912,906.7 908,910.7 906.7,917.3 909.3,924 905.3,926.7 900,928 896,930.7 892,928 888,925.3"/>
<polygon fill="#FEE391" stroke="#FEE391" points="872,926.7 873.3,921.3 878.7,919.3 885.3,921.3 888,925.3 892,928 896,930.7 892,933.3 886.7,936 883.3,938.7 882.7,942.7 885.3,948 889.3,952 890.7,957.3 884,959.3 877.3,960 874.7,956 872,949.3 870.7,941.3 871.3,933.3"/>
<polygon fill="#FFFFE5" stroke="#FFFFE5" points="922.7,912 925.3,905.3 929.3,900 934.7,894.7 940,890.7 940,918.7 934.7,920 929.3,918.7 925.3,916"/>
<polygon fill="#FE9929" stroke="#FE9929" points="740,882.7 742,886.7 741.3,894.7 745.3,893.3 748,896 742.7,900 740,901.3"/>
<polygon fill="#FE9929" stroke="#FE9929" points="966,821.3 968,814.7 970.7,810.7 977.3,808 984,808 992,805.3 994.7,800 1026.7,800 1025.3,804 1022.7,808 1021.3,812 1016,817.3 1013.3,824 1012,830.7 1009.3,837.3 1008.7,841.3 1009.3,849.3 1005.3,848 1000,845.3 994.7,845.3 988,848 982.7,850.7 977.3,851.3 973.3,847.3 976,842.7 978.7,838.7 984,834.7 982.7,830.7 977.3,829.3 972,828.7 966.7,826.7"/>
<polygon fill="#FECE65" stroke="#FECE65" points="958.7,800 969.3,800 968,806.7 964,810.7 961.3,808 960,804"/>
<polygon fill="#FECE65" stroke="#FECE65" points="970.7,800 992,800 992,805.3 984,808 977.3,808 970.7,810.7 969.3,806.7"/>
<polygon fill="#FEB642" stroke="#FEB642" points="1009.3,837.3 1012,830.7 1013.3,824 1016,817.3 1021.3,812 1026.7,813.3 1032,817.3 1037.3,821.3 1042.7,820 1048,822.7 1050.7,826.7 1048,832 1045.3,837.3 1040,840 1036,845.3 1033.3,850.7 1030.7,848 1026.7,846.7 1022.7,844 1018.7,842.7 1013.3,842 1008.7,841.3"/>
<polygon fill="#FECE65" stroke="#FECE65" points="1000,845.3 1005.3,848 1009.3,849.3 1008.7,841.3 1013.3,842 1018.7,842.7 1022.7,844 1026.7,846.7 1030.7,848 1033.3,856 1029.3,861.3 1024,866.7 1020,870.7 1013.3,873.3 1006.7,874.7 1001.3,878.7 998.7,874.7 1000,869.3 998.7,864 1000,858.7 1002.7,853.3 1001.3,849.3"/>
<polygon fill="#FFF0AE" stroke="#FFF0AE" points="973.3,856 977.3,851.3 982.7,850.7 988,848 994.7,845.3 1000,845.3 1001.3,849.3 1002.7,853.3 1000,858.7 998.7,864 1000,869.3 998.7,874.7 1001.3,878.7 997.3,884 993.3,888 989.3,892 985.3,894.7 981.3,893.3 976,892 973.3,893.3 970.7,888 966.7,885.3 964,880 965.3,873.3 964,868 968,866.7 973.3,864 978.7,860 976,857.3"/>
<polygon fill="#FFFFE5" stroke="#FFFFE5" points="989.3,892 993.3,888 997.3,884 1001.3,878.7 1006.7,874.7 1013.3,873.3 1020,870.7 1024,874.7 1021.3,878.7 1018.7,882.7 1021.3,886.7 1025.3,886.7 1024,890.7 1017.3,892 1012,893.3 1006.7,896 1002.7,896 998.7,894.7 993.3,894.7"/>
<polygon fill="#FFFACA" stroke="#FFFACA" points="940,882.7 944,876 950.7,873.3 957.3,870.7 964,868 965.3,873.3 964,880 966.7,885.3 970.7,888 973.3,893.3 968,893.3 962.7,894.7 960,898.7 954.7,897.3 949.3,897.3 948,902.7 946.7,909.3 945.3,916 940,917.3 933.3,920 928,918.7 924,913.3 924,906.7 929.3,902.7 933.3,897.3 938.7,893.3 941.3,888"/>
<polygon fill="#FFFFE5" stroke="#FFFFE5" points="957.3,888 962.7,885.3 968,886.7 972,890.7 970.7,893.3 964,893.3 960,892"/>
<polygon fill="#D9D9D9" stroke="#D9D9D9" points="948.7,898.7 952,896 956,897.3 958.7,901.3 957.3,906.7 953.3,909.3 950.7,905.3"/>
<polygon fill="#FEB642" stroke="#FEB642" points="946.7,910.7 949.3,905.3 953.3,909.3 957.3,904 958.7,906.7 956,912 953.3,916 949.3,918.7 948,914.7"/>
<polygon fill="#FE9929" stroke="#FE9929" points="962.7,896 964,893.3 968,896 973.3,894.7 977.3,897.3 981.3,901.3 980,904 976,900 970.7,901.3 966.7,902.7 964,900"/>
<polygon fill="#FFFACA" stroke="#FFFACA" points="1048,833.3 1050.7,826.7 1056,820 1061.3,816 1066.7,813.3 1072,808 1080,804 1086.7,800 1102.7,800 1098.7,805.3 1094.7,809.3 1094.7,816 1096,821.3 1090.7,825.3 1085.3,826.7 1086.7,832 1081.3,834.7 1077.3,838.7 1073.3,842.7 1069.3,846.7 1066.7,850.7 1061.3,852 1057.3,853.3 1054.7,849.3 1056,844 1053.3,841.3 1048,841.3"/>
<polygon fill="#FECE65" stroke="#FECE65" points="1068,825.3 1072,821.3 1078.7,820 1082.7,820 1084,825.3 1086.7,832 1081.3,834.7 1077.3,833.3 1073.3,833.3 1069.3,829.3"/>
<polygon fill="#FEB642" stroke="#FEB642" points="1056,844 1058.7,841.3 1064,842.7 1065.3,846.7 1062.7,850.7 1058.7,852 1055.3,849.3"/>
<polygon fill="#FFFACA" stroke="#FFFACA" points="920,800 949.3,800 948,804 941.3,805.3 933.3,806.7 928,809.3 929.3,813.3 930.7,821.3 932,826.7 928,833.3 925.3,838.7 920,840"/>
<polygon fill="#FEE391" stroke="#FEE391" points="368.8,328.4 383.8,328.4 382,334.4 379.6,344 379.6,348.8 384.4,354.8 388,357.8 396.4,358.4 401.2,360.8 406,364.4 404.8,368 398.8,369.8 395.2,374 389.2,372.8 389.2,371 378.4,371.6 370,372.8 370,375.2 377.2,379.4 382,383 374.8,380.6 366.4,378.2 357.4,375.8 360.4,368 364,364.4 366.4,358.4 368.8,353.6 373,350 375.4,347.6 376.6,346.4 374.8,341.6 373.6,336.2 371.2,331.4"/>
<polygon fill="#FE9929" stroke="#FE9929" points="331,319 368.8,319 368.8,328.4 371.2,331.4 373.6,336.2 370.6,339.2 372.4,346.4 373,350 368.8,353.6 366.4,358.4 364,364.4 360.4,368 357.4,375.8 350.2,375.8 346,372.8 341.8,369.2 335.2,367.4 330.2,364.4 334,360.8 334.6,356.6 338.8,353 341.8,350 341.8,341.6 339.4,338 335.8,331.4 331,329.6"/>
<polygon fill="#D9D9D9" stroke="#D9D9D9" points="370.6,339.2 373.6,338.6 375.4,342.8 376.6,346.4 374.8,347.6 372.4,346.4"/>
<polygon fill="#FE9929" stroke="#FE9929" points="383.8,328.4 433.6,328.4 434.8,323.6 439,319.4 443.2,315.8 446.2,317.6 449.2,322.4 456.4,323.6 464.2,329.6 460.6,334.4 459.4,340.4 457.6,345.2 459.4,350 458.8,354.8 463.6,359.6 458.8,362 455.2,363.8 446.8,365.6 436,365.6 427.6,366.2 420.4,368 413.2,365.6 406,364.4 401.2,360.8 396.4,358.4 388,357.8 384.4,354.8 379.6,348.8 379.6,344 382,334.4"/>
<polygon fill="#882F05" stroke="#882F05" points="1168,284 1174,283 1176,279 1183,279 1183,285 1170,288"/>
<polygon fill="#D9D9D9" stroke="#D9D9D9" points="966.7,902.9 970.7,901.6 976,902.9 974.7,906.7 970.7,909.3 966.7,908"/>
</g>
<polygon fill="#FECE65" stroke="#5a5a5a" stroke-width="1" stroke-linejoin="round" points="1137.3,830.7 1141.3,834 1147.3,838 1144.7,842.7 1144,848 1144.7,852.7 1141.3,858.7 1139.3,866.7 1138,874.7 1136,881.3 1134,888 1132,893.3 1126.7,898 1124,903.3 1122.7,909.3 1122,916 1120.7,918.7 1118,916.7 1116.7,909.3 1114.7,905.3 1109.3,901.3 1106.7,898.7 1106,893.3 1104.7,889.3 1102.7,888 1104,882.7 1104.7,877.3 1104.7,872.7 1108,866.7 1112.7,858.7 1116,851.3 1122,844 1123.3,839.3 1126.7,836 1132.7,834.7 1134.7,832"/>
<polygon fill="#D9D9D9" stroke="#5a5a5a" stroke-width="0.8" points="965.3,1283.5 972,1277.3 978.7,1273.3 981.3,1274.7 976,1281.3 969.3,1284.5"/>
<g fill="none" stroke="#5a5a5a" stroke-width="1" stroke-linejoin="round">
<polygon points="415,251.2 400,246.2 390,237.5 381.2,230 380,222.5 362.5,223 356.2,228.8 353.8,235 333.8,241.2 329.5,250 331.2,265 330,273.8 316.2,280 305,276.2 286.2,276.2 272.5,272 266.2,287.5 260,302.5 255.5,313.8 263.2,320.8 252.5,322.5 243.8,318.8 225,323.8 205,328 203.8,332 212.5,336.2 213.8,350 221.2,367.5 222,373.8 214.2,378.8 217.5,383.8 210,386.2 211.2,398.8 200,405 185,412.5 163.8,421.2 155,428.8 137.5,428.8 131.2,432.5 127.5,442.5 117.5,446.2 108.8,448 105.5,440 90,443.8 85,447.5 70,453.8 66.2,460 67,468.8 58.8,471.2 65,481.2 66.2,491.2 77.5,490 88.8,495 90,507.5 91.2,512.5 95,523.8 81.2,527 83.8,531.2 100,535 112.5,542.5 115,553.8 120,561.2 126.2,560 137.5,568 152.5,571.2 162,571.2 163,582.5 166.2,593 176.2,596.2 182.5,599.5 175,607.5 177,618.8 185,630 189.2,643.8 182.5,650.8 176.2,643 168.8,646.2 171.2,655 177.5,662.5 177,673.8 183.8,685 191.2,684.5 202.5,692.5 212.5,697.5 223.8,701.2 232,711.2 237.5,700 252.5,703 253.8,708.8 265,715.5 276.2,721.2 286.2,731.2 297.5,728.8 300,738.8 315,747.5 321.2,753.8 331.2,753 340,763.8 343.8,758.8 350,762.5 356.2,760 366.2,766.2 377.5,766.2 390,762.5 398.8,760 402.5,765 401.2,776.2 407,782 411.2,770 422.5,757 435,758.8 446.2,762.5 456.2,765 463.8,763.8 466.2,773.8 473.8,777.5 477,791.2 495,790 512.5,788.8 525,773.8 540,767.5 560,755 575,760 588.8,768 595,763.8 598.8,749.2 607.5,753.8 613.2,758.8 616.2,772.5 624.5,773.8 625,800 622.5,815 620,818.8 611.2,830 602.5,836.2 598.8,846.2 602.5,860 598.8,867 610,862 625,861.2 626.2,872.5 630,885 642.5,887.5 638.8,900 635,911.2 652.5,914.5 656.2,926.2 665,928.8 680,921.2 682.5,933.8 693.8,937 692.5,920 688.8,903.8 702.5,901.2 710,895 721.2,902.5 727.5,895 733.8,900 738.8,896.2 743.8,901.2 746.2,893.8 757.5,893.8 765,887.5 772.5,881.2 781.2,888.8 793.8,891.2 806.2,895 801.2,905 805.5,915 817.5,923.8 827.5,925 837.5,927.5 847.5,923.8 857.5,930.5 871.2,928.8 871.2,935 871.2,946.2 876.2,960 890,957.5 888.8,950 882.5,943.8 885,936.2 892.5,932.5 900,930 915,927 930,921.2 940,923.8 947.5,916.2 957.5,907.5 963.8,902.5 967.5,908.8 975,907.5 981.2,902.5 986.2,897.5 995,896.2 1005,896.2 1015,892.5 1025,887.5 1035,877.5 1045,873.8 1055,862.5 1059,860 1062,852 1070,848 1078,840 1086,830 1094,826 1099,822 1094,818 1096,808 1102,800 1098,796 1108,790 1112,782 1117,776 1120,770 1126,766 1130,760 1138,754 1140,744 1142,736 1148,730 1147,720 1150,714 1142,710 1138,704 1130,700 1126,698 1134,692 1148,691 1147,680 1148,672 1145,662 1136,656 1134,648 1124,642 1122,630 1116,616 1110,602 1094,594 1086,588 1086,580 1094,574 1102,564 1108,558 1110,554 1118,546 1126,540 1136,537 1146,534 1158,534 1161,522 1150,519 1140,520 1130,516 1122,512 1108,515 1102,522 1096,528 1088,529 1080,523 1078,518 1086,512 1080,506 1074,503 1062,504 1056,499 1050,492 1052,484 1058,476 1066,482 1078,476 1086,468 1094,458 1099,455 1110,452 1118,444 1124,436 1134,434 1146,434 1150,442 1146,452 1136,460 1130,468 1138,474 1128,482 1128,488 1138,484 1148,479 1158,472 1170,464 1182,461 1194,460 1202,452 1214,446 1226,438 1234,432 1242,425 1250,418 1258,410 1266,417 1280,420 1289,416 1284,406 1296,404 1308,400 1316,395 1324,380 1331,381 1340,393 1338,386 1350,381 1356,369 1355,352 1351,334 1348,330 1360,326 1369,320 1380,323 1394,327 1399,315 1405,311 1407,302 1414,292 1418,280 1421,268 1434,258 1429,251 1434,244 1441,241 1426,241 1412,245 1396,249 1386,253 1380,259 1362,259 1350,259 1345,252 1345,243 1339,237 1342,230 1330,226 1322,220 1314,215 1304,215 1298,211 1290,210 1278,210 1272,204 1270,200 1271,194 1266,184 1260,175 1257,166 1250,150 1244,140 1238,130 1230,122 1220,119 1210,118 1200,115 1190,111 1182,109 1170,110 1156,112 1140,114 1132,116 1120,117 1108,126 1103,130 1105,134 1118,134 1118,146 1106,156 1098,168 1090,180 1084,190 1088,193 1085,198 1072,202 1060,209 1052,212 1040,209 1028,204.4 1020,220 1009,238 1008,247 1002.4,249 1005,255 1011,259 1022,255 1034,255 1044,260 1055,251 1070,251.6 1080,260 1091,267 1098,274 1100,285 1088,286 1078,283 1064,284 1054,287 1044,288 1043,292 1031,293 1023,300 1018,309 1006,315 998,318 980,317 968,329 958,334 948,333 940,332 931,326 920,327 913,334 910,344 918,353 922,360 910,367 902,370 894,378 886,385 873,388 865,393.6 840,393.6 820,393.6 804,397 792,401 776,408 765,415 755.6,413 755,408 740,409 728,406 714,400 700,399 692,391 680,389 660,388 642,390 626,389 606,386.4 590,384.4 573,386 572,382 562,373 554,355 550,353 550,347 538,345 524,337 510,330 492,327 474,326 463,326 449,322 446,318 445,311 452,303 450,296 453,287 450,278 441,270 438,261 429,255"/>
<polygon points="862.5,968.8 876.2,966.2 892.5,963 900,966.2 902.5,975.5 895,983.8 891.2,1000 882.5,1003.8 871.2,1013.2 857.5,1010 848,1006.2 846.2,985 853.8,976.2"/>
<polyline points="182.5,599.5 200,596.2 205,583.8 211.2,573.8 227.5,574.5 240,577 251.2,572.5 260,565.5 270,566.2 273.8,572.5 286.2,574.5 297.5,572.5 310,566.2 322.5,563.8 330,567 341.2,561.2 343.8,553.8 362.5,550 375,547.5 392.5,545.5 403.8,548.8 415,552"/>
<polyline points="595,646.2 610,647.5 618.8,661.2 627.5,675 623.8,680 630,692.5 632,712.5 632.5,731.2 636.2,747.5 638.8,756.2 646.2,741.2 655,752.5 660,767.5 668.8,765 677.5,785 687.5,795 686.2,800 693.8,810 705,805 715,807 722.5,796.2"/>
<polyline points="613.2,758.8 616.2,752.5 622.5,753.8 623.8,737.5 631.2,740 633,731.2"/>
<polyline points="573,386 565,389 564,395 567,400 566,406 556,409 548,415 544,411 532,417 524,422 516,430 514,438 496,441 493,452 490,466 482,477 483,480"/>
<polyline points="590,384.4 598,400 606,414 600,419 608,428 616,432 617,441 623,437 628,439 634,434 646,433 656,433 659,440 657,449 650,456 641,459 648,460 660,467 666,472 674,481 680,482"/>
<polyline points="484,480.5 465.3,485.2 442,489.8 431.5,495.2 435,499.2 440.8,498 440.8,513.2 449,517.8 454.8,522.5 458.3,531.8 449,535.3 445.5,540 452.5,544.7 453.7,555.2 447.8,557.5 439.7,554 430.3,551.7 425.7,555.2 417.5,554 409.3,550.5 400,548.2 394.2,547"/>
<polyline points="417.5,554 417.5,557.5 423.3,561 423.3,570.3 417.5,575 419.8,584.3 425.7,586.7 423.3,596 424.5,603 421,606.5 428,617 437.3,626.3 446.7,631 456,631 467.7,635.7 477,639.2 493.3,641.5 505,645 516.7,647.3 533,642.7 543.5,650.8 549.3,656.7 551.7,663.7 561,667.2 566.8,669.5 570.3,662.5 578.5,667.2 580.8,660.2 591.3,656.7 594.8,646.2"/>
<polyline points="484,480.5 498,477 500.3,482.8 514.3,485.2 527.2,487.5 530.7,496.8 540,495.7 549.3,499.2 558.7,496.8 568,502.7 577.3,498 579.7,492.2 586.7,489.8 585.5,477 593.7,477 603,481.7 612.3,485.2 617,480.5 625.2,480.5 633.3,484 640.3,489.8 647.3,495.7 656.7,498 655.5,494.5 663.7,499.2 673,502.7 680,508.5 689.3,512 698.7,514.3 703.3,521.3 710.3,529.5 715,537.7 720.8,554 718.5,563.3 713.8,570.3 705.7,573.8 704.5,579.7 697.5,586.7 697.5,596 703.3,599.5 698.7,605.3 691.7,605.3 684.7,603 674.2,599.5 670.7,603 676.5,610 683.5,615.8 689.3,617 691.7,621.7 696.3,619.3 695.2,627.5 689.3,627.5 683.5,631 680,627.5 678.8,638 673,642.7 668.3,645 657.8,642.7 652,634.5 648.5,640.3 642.7,638 633.3,633.3 626.3,628.7 624,619.3 617,608.8 614.7,605.3 605.3,603.5 600.7,606.5 596,611.2 596,619.3 601.8,624 598.3,629.8 594.8,635.7 594.8,646.2"/>
<polyline points="695.2,627.5 701,624 708,620.5 708,614.7 703.3,610 708,606.5 717.3,603 723.2,605.3 725.5,613.5 736,617 744.2,619.3 750,624"/>
<polyline points="671.8,479.3 680,481.7 687,487.5"/>
<polyline points="1140,114 1139,117 1142,122 1132,130 1129,134 1140,139 1146,142 1150,137 1163,142 1164,152 1168,164 1177,168 1186,165 1196,166 1204,164 1214,159 1223,160 1232,169 1238,175.6 1233,181 1228,188 1221,197 1219,208 1219,220 1212,222 1208,230 1203,240 1204,248 1201,249 1197,238 1186,248 1177,253 1174,258 1164,262 1158,267 1167,274 1168,279 1172,282 1177,281 1178,278 1183.6,279 1183,285 1171,287 1170,291 1174,295 1187,295 1190,296 1193,306 1199,315"/>
<polyline points="1174,295 1172,298 1167,300 1165,308 1160,309 1156,305 1146,303 1143,303 1140,309 1146,311 1149,320 1151,326 1150,340 1154,347"/>
<polyline points="1154,346.7 1162,346 1172,340.7 1176,348.7 1180,355.3 1181.3,363.3 1177.3,365.3 1183.3,370 1187.3,366.7"/>
<polyline points="1187.3,366.7 1192.7,371.3 1199.3,376.7 1203.3,382.7 1210,375.3 1211.3,376.7 1215.3,386 1218.7,392.7 1222,396 1224.7,401.3 1222,406 1226,415.3 1232,424.7 1230,427.3 1227.3,432"/>
<polyline points="1187.3,366.7 1185.3,371.3 1183.3,376.7 1180.7,378.7 1174,379.3 1167.3,383.3 1156.7,386 1144.7,387.3 1136.7,392 1130,392.7"/>
<polyline points="1199.3,315.3 1204.7,316.7 1212.7,314.7 1223.3,316.7 1228.7,315.3 1231.3,315.3 1234,321.3 1240.7,323.3 1247.3,322.7 1255.3,323.3 1259.3,330 1260,338.7 1268.7,338.7 1271.3,344.7 1276.7,350 1284.7,344.7 1290,340.7 1293.3,348.7 1298,358 1301.3,364.7 1308.7,364.7 1310,358 1320.7,355.3 1328,354.9 1334,352.9 1336,360 1342,364 1354,366.9"/>
<polyline points="1150,386 1146,387.3 1139.3,391.3 1132.7,394 1126,397.3 1119.3,395.3 1114,399.3 1107.3,406 1104.7,412.7 1100.7,406 1096.7,399.3 1091.3,395.3 1086,399.3 1086.7,410 1088.7,415.3 1086,422 1076.7,422 1070,422 1064.7,420.7 1060.7,412.7 1063.3,410 1064,403.3 1058,399.3 1056.7,394 1052.7,388.7 1044.7,389.3 1040.7,392 1032.7,394 1031.3,399.3 1030,404.7 1024.7,406 1019.3,404.7 1015.3,408.7 1010,407.3 1004.7,408.7 998,411.3 995.3,415.3 988.7,414 987.3,404.7 985.3,400.7 978.7,402.7 975.3,406.7 972,410 972,415.3 966,418.7 967.3,424.7 964,428.7 968.7,435.3 970.7,439.3 968.7,442 962,444.7 955.3,446 950,444.7"/>
<polyline points="970.7,439.3 975.3,443.3 978.7,448 970,450 967.3,455.3 971.3,456.7 975.3,458 978.7,463.3 980.7,467.3 978.7,470 976.7,476.7 968.7,478 963.3,482 963.3,487.3 958,494 959.3,499.3 964.7,503.3 967.3,511.3 966,514"/>
<polyline points="1086,422 1083.3,422.7 1082,426 1078,431.3 1080,438 1084.7,440.7 1087.3,438.7 1092,442 1094.7,446 1096.7,452.7 1098,454.7"/>
<polyline points="1007.3,443.3 1012.7,438 1016.7,435.3 1020.7,432.7 1023.3,431.3 1026.7,429.3 1030,432.7 1036.7,436.7 1046,438.7 1040.7,443.3 1043.3,447.3 1048.7,449.3 1044.7,451.3 1042,454 1035.3,454 1030,456 1031.3,463.3 1026,466 1022,468.7 1016.7,467.3 1012.7,466 1007.3,468 1002,464.7 1000.7,456.7 1006,452.7 1009.3,447.3 1007.3,443.3"/>
<polyline points="1048.7,449.3 1050,451.3 1052.7,455.3 1048.7,458 1051.3,464.7 1055.3,467.3 1056.7,473.3 1054,478 1051.3,483.3 1050,490 1043.3,492 1036.7,490 1031.3,487.3 1028.7,483.3 1031.3,476.7 1030.7,470 1031.3,463.3 1033.3,464 1036.7,464.7 1040.7,463.3 1039.3,459.3 1042,454"/>
<polyline points="1052.7,495.3 1055.3,499.3 1050,504.7 1046,508.7 1040.7,510 1035.3,510.7 1030,510 1026,515.3 1022,519.3 1016.7,523.3 1012.7,526 1010,530"/>
<polyline points="1086,580.7 1083.3,582.7 1077.3,583.3 1075.3,588.7 1070.7,592 1068,592 1065.3,598 1062,598.7 1060,593.3 1055.3,592 1052,594 1050,596 1046,593.3 1042,596 1040,596.7 1037.3,592 1034,586.7 1030,583.3"/>
<polyline points="1030,598.7 1035.3,600 1037.3,605.3 1044.7,606.7 1050,610.7 1052.7,615.3 1061.3,616 1058.7,621.3 1056.7,626.7 1061.3,629.3 1062.7,633.3 1063.3,637.3 1067.3,641.3 1074,641.3 1076.7,636 1080.7,636 1084.7,640 1084.7,644.7 1082,648 1079.3,644.7 1074,645.3 1070,645.3 1072.7,649.3 1070,654.7 1066,660 1070,665.3 1074,668 1077.3,672 1074,677.3 1078,677.3 1083.3,678.7 1088.7,678.7 1092.7,684"/>
<polyline points="1128.7,664 1131.3,672 1127.3,674.7 1126,680 1123.3,684.7"/>
<polyline points="1147.3,690.7 1142,690 1135.3,692 1130,690.7 1126,686.7 1123.3,684.7 1118,686.7 1114,689.3 1110,685.3 1104.7,684 1099.3,682 1094,681.3 1092.7,684 1091.3,690.7 1087.3,696 1086,700"/>
<polyline points="890,500 890,508 894.7,514.7 892.7,522.7 888.7,530.7 888,534 888,544 889.3,553.3 890,561.3 887.3,570.7 886,578.7 883.3,585.3 884.7,593.3"/>
<polyline points="884.7,593.3 890,593.3 896.7,592 900.7,590.7 906,588 912.7,586.7 915.3,584 919.3,582.7 924,580 924,577.3 928.7,576.7 935.3,577.3 940.7,577.3 946,574.7 951.3,572.7 956.7,569.3 960.7,562.7 959.3,557.3 959.3,553.3 962,549.3 963.3,548.7 959.3,545.3 960.7,541.3 956.7,538.7 962,534.7"/>
<polyline points="962,534.7 963.3,529.3 966,522.7 970,517.3 967.3,513.3 967.3,508 963.3,500"/>
<polyline points="962,534.7 966,532.7 972.7,534.7 980.7,535.3 988.7,533.3 996.7,534.7 1000.7,538.7 1006,533.3 1008.7,528.7 1014,522.7 1020.7,514.7 1028.7,510.7 1036.7,508 1050,502.7"/>
<polyline points="1000.7,538.7 996.7,544 999.3,549.3 1000.7,553.3 999.3,562.7 1003.3,560 1010,556 1014.7,555.3 1014,558 1007.3,560.7 1002,564 998,564 992.7,569.3 988.7,572 987.3,578.7 990,582.7 996.7,586.7 1000.7,593.3 1010,594 1018,593.3 1022,588"/>
<polyline points="872.5,927.5 875,920 885,917.5 886.2,910 893.8,908.8 895,900 900,895 907.5,890 908.8,880 912.5,872.5 917.5,865 921.2,857.5 923.8,847.5 912.5,846.2 910,837.5 900,838.8 901.2,832.5 907.5,826.2 908.8,817.5 905,812.5 907.5,807.5 900,805 890,806.2 883.8,812.5 876.2,810 872.5,813.8 866.2,812.5 862.5,818.8 856.2,820 847.5,826.2 840,825 836.2,833.8 828.8,835 825,831.2 820,827.5 812.5,826.2 805,830 798.8,835 790,840 788.8,846.2 782.5,843.8 775,845 767.5,842.5 760,846.2 756.2,842.5 755,850 761.2,853.8 768.8,860 775,862.5 785,861.2 791.2,866.2 790,875 783.8,876.2 777.5,883.8"/>
<polyline points="866.2,812.5 865,805 862.5,797.5 866.2,790 865,785 856.2,783.8 851.2,782.5 855,776.2 863.8,770 862.5,760 860,750 862.5,740 861.2,730 865,722.5 875,717.5 882.5,718.8 890,712.5"/>
<polyline points="860,750 855,755 850,750 845,742.5 840,735 835,737.5 830,732.5 822.5,732.5 820,738.8 812.5,741.2 807.5,746.2 800,747.5 797.5,742.5 790,746.2 782.5,747.5 780,755 783.8,760 790,760 795,763.8 792.5,768.8 782.5,770 775,767.5 770,760 762.5,762.5 757.5,765 750,760 751.2,750 747.5,746.2 740,747.5 737.5,755 732.5,760 728.8,770 721.2,777.5 718.8,785 721.2,795 720,802.5 712.5,806.2 705,807.5 700,812.5"/>
<polyline points="758.8,791.2 753.8,802.5 751.2,815 753.8,825 760,835 756.2,842.5"/>
<polyline points="797.5,742.5 795,740 783.8,735 777.5,727.5 773.8,720 775,710 780,701.2 786.2,702.5 793.8,707.5 800,703.8 805,708.8 812.5,707.5 822.5,697.5 826.2,691.2 832.5,687.5 836.2,681.2 835,675 842.5,665 840,657.5 847.5,653.8 855,660 862.5,665 872.5,667.5 878.8,672.5 881.2,681.2 877.5,687.5 870,690 860,693.8 850,697.5 843.8,700 845,712.5 850,717.5 857.5,727.5 862.5,740"/>
<polyline points="890,712.5 897.5,707.5 907.5,712.5 917.5,713.8 927.5,720 937.5,722.5 943.8,717.5 950,722.5 957.5,717.5 961.2,725 960,732.5 968.8,740 972.5,750 965,760 960,770 962.5,780 965,792.5 968.8,805 972.5,810 966.2,815 967.5,825 965,830 952.5,826.2 943.8,832.5 943.8,840 935,835 927.5,837.5 923.8,847.5"/>
<polyline points="960,732.5 970,728.8 982.5,725 995,720 1010,715 1022.5,711.2 1031.2,712.5 1027.5,717.5 1035,715 1045,712.5 1055,717.5 1062.5,722.5 1075,725"/>
<polyline points="1075,755 1067.5,756.2 1060,762.5 1050,765 1041.2,767.5 1037.5,777.5 1035,787.5 1027.5,797.5 1022.5,810 1015,817.5 1011.2,830 1010,840 1006.2,848.8"/>
<polyline points="965,830 975,827.5 982.5,832.5 977.5,840 973.8,847.5 985,845 997.5,843.8 1006.2,848.8 1015,840 1025,845 1032.5,850 1035,860 1037.5,872.5 1042.5,873.8"/>
<polyline points="737.5,521.2 750,520 767.5,516.2 782.5,512.5 786.2,511.2 785,495 787.5,485 793.8,473.8 805,471.2 810,480 805,492.5 801.2,500 812.5,505 825,510 835,516.2 842.5,515 850,512.5 852.5,505 857.5,502.5 862.5,490 870,485 877.5,475 883.8,470 890,473.8 900,468.8 902.5,466.2 900,480 896.2,492.5 891.2,500"/>
<polyline points="745,618.8 750,626.2 752.5,635 760,642.5 772.5,641.2 780,635 785,632.5"/>
<polyline points="1165.3,849.3 1158.7,878.7"/>
<polyline points="1145.3,923.3 1128,946.7"/>
<polyline points="1102.5,991 1090,1017.5"/>
<polyline points="1081,1067 1081,1095"/>
<polyline points="1079,1171 1075,1185 1069,1198"/>
<polyline points="1018,1273 1001,1295"/>
<polyline points="917,1390 931,1387 943,1381"/>
<polyline points="838,1296 837,1309 840,1323"/>
<polyline points="885,1164 884,1177 879,1191"/>
<polyline points="862,1063 871,1076 875,1091"/>
<polyline points="865,1289 872,1284 876,1285"/>
</g>
<g fill="#5a5a5a">
<circle cx="911.5" cy="1040.5" r="0.7"/>
<circle cx="929.3" cy="1044" r="0.7"/>
<circle cx="928" cy="1048" r="0.7"/>
<circle cx="916" cy="1056" r="0.7"/>
<circle cx="936" cy="1056" r="0.7"/>
<circle cx="912" cy="1059.5" r="0.7"/>
<circle cx="917.3" cy="1062.7" r="0.7"/>
<circle cx="924" cy="1060" r="0.7"/>
<circle cx="933.3" cy="1061.3" r="0.7"/>
<circle cx="937.3" cy="1059.5" r="0.7"/>
<circle cx="918.7" cy="1066.7" r="0.7"/>
<circle cx="934.7" cy="1068" r="0.7"/>
<circle cx="928" cy="1075.5" r="0.7"/>
<circle cx="984.8" cy="1063.2" r="0.7"/>
<circle cx="976" cy="1067.5" r="0.7"/>
<circle cx="970.7" cy="1068.5" r="0.7"/>
<circle cx="988" cy="1068.5" r="0.7"/>
<circle cx="966.7" cy="1073.3" r="0.7"/>
<circle cx="981.3" cy="1077.3" r="0.7"/>
<circle cx="977.3" cy="1078.7" r="0.7"/>
<circle cx="965.3" cy="1081.9" r="0.7"/>
<circle cx="1028.5" cy="1060" r="0.7"/>
<circle cx="1052" cy="1089.9" r="0.7"/>
<circle cx="998.7" cy="1120.8" r="0.7"/>
<circle cx="982.7" cy="1184" r="0.7"/>
<circle cx="1028.8" cy="1184" r="0.7"/>
<circle cx="969.3" cy="1197.3" r="0.7"/>
<circle cx="984" cy="1194.7" r="0.7"/>
<circle cx="989.9" cy="1194.7" r="0.7"/>
<circle cx="979.2" cy="1201.3" r="0.7"/>
<circle cx="988.8" cy="1199.2" r="0.7"/>
<circle cx="1041.3" cy="1194.7" r="0.7"/>
<circle cx="1050.1" cy="1195.5" r="0.7"/>
<circle cx="1052.8" cy="1201.3" r="0.7"/>
<circle cx="1042.7" cy="1203.5" r="0.7"/>
<circle cx="1008" cy="1208.8" r="0.7"/>
<circle cx="1025.3" cy="1211.5" r="0.7"/>
<circle cx="1023.5" cy="1213.3" r="0.7"/>
<circle cx="1031.5" cy="1209.3" r="0.7"/>
<circle cx="1040.8" cy="1212.5" r="0.7"/>
<circle cx="1043.2" cy="1219.5" r="0.7"/>
<circle cx="959.2" cy="1216" r="0.7"/>
<circle cx="964.5" cy="1219.5" r="0.7"/>
<circle cx="973.9" cy="1214.7" r="0.7"/>
<circle cx="984" cy="1212.5" r="0.7"/>
<circle cx="996.8" cy="1216.8" r="0.7"/>
<circle cx="1013.9" cy="1219.2" r="0.7"/>
<circle cx="1002.1" cy="1224" r="0.7"/>
<circle cx="982.7" cy="1223.2" r="0.7"/>
<circle cx="1009.3" cy="1228.5" r="0.7"/>
<circle cx="1024" cy="1226.7" r="0.7"/>
<circle cx="1016.5" cy="1232" r="0.7"/>
<circle cx="934.7" cy="1233.3" r="0.7"/>
<circle cx="972" cy="1237.9" r="0.7"/>
<circle cx="1000" cy="1237.3" r="0.7"/>
<circle cx="1011.5" cy="1240" r="0.7"/>
<circle cx="1022.7" cy="1242.7" r="0.7"/>
<circle cx="1028.8" cy="1246.1" r="0.7"/>
<circle cx="960.8" cy="1241.3" r="0.7"/>
<circle cx="959.5" cy="1247.2" r="0.7"/>
<circle cx="966.7" cy="1250.7" r="0.7"/>
<circle cx="972.8" cy="1253.9" r="0.7"/>
<circle cx="982.1" cy="1250.7" r="0.7"/>
<circle cx="1019.5" cy="1249.9" r="0.7"/>
<circle cx="927.5" cy="1249.9" r="0.7"/>
<circle cx="936" cy="1251.5" r="0.7"/>
<circle cx="941.9" cy="1249.9" r="0.7"/>
<circle cx="910.7" cy="1258.1" r="0.7"/>
<circle cx="915.5" cy="1256" r="0.7"/>
<circle cx="944.8" cy="1261.3" r="0.7"/>
<circle cx="952.5" cy="1268" r="0.7"/>
<circle cx="996" cy="1261.3" r="0.7"/>
<circle cx="1001.9" cy="1260" r="0.7"/>
<circle cx="877.9" cy="1275.5" r="0.7"/>
<circle cx="890.7" cy="1270.7" r="0.7"/>
<circle cx="888.5" cy="1277.3" r="0.7"/>
<circle cx="921.9" cy="1270.7" r="0.7"/>
<circle cx="914.1" cy="1276.5" r="0.7"/>
<circle cx="916.5" cy="1280" r="0.7"/>
<circle cx="912.8" cy="1284" r="0.7"/>
<circle cx="943.2" cy="1276.5" r="0.7"/>
<circle cx="966.7" cy="1272.8" r="0.7"/>
<circle cx="981.3" cy="1269.3" r="0.7"/>
<circle cx="988" cy="1273.3" r="0.7"/>
<circle cx="962.7" cy="1282.7" r="0.7"/>
<circle cx="982.7" cy="1282.7" r="0.7"/>
<circle cx="989.9" cy="1285.3" r="0.7"/>
<circle cx="986.7" cy="1292.5" r="0.7"/>
<circle cx="963.5" cy="1288" r="0.7"/>
<circle cx="958.7" cy="1299.5" r="0.7"/>
<circle cx="950.1" cy="1315.5" r="0.7"/>
<circle cx="935.5" cy="1324.5" r="0.7"/>
<circle cx="934.7" cy="1329.9" r="0.7"/>
<circle cx="930.7" cy="1332.5" r="0.7"/>
<circle cx="936.5" cy="1336" r="0.7"/>
<circle cx="937.3" cy="1340" r="0.7"/>
<circle cx="936.5" cy="1346.7" r="0.7"/>
<circle cx="944" cy="1348.5" r="0.7"/>
<circle cx="923.2" cy="1377.9" r="0.7"/>
<circle cx="928" cy="1376.8" r="0.7"/>
<circle cx="1012.5" cy="938.8" r="0.7"/>
<circle cx="1031" cy="948.8" r="0.7"/>
<circle cx="945" cy="979" r="0.7"/>
<circle cx="964" cy="987" r="0.7"/>
<circle cx="857.5" cy="939.5" r="0.7"/>
<circle cx="1092.7" cy="874.7" r="0.7"/>
<circle cx="1089" cy="884" r="0.7"/>
<circle cx="1180" cy="819.7" r="0.7"/>
<circle cx="1185" cy="814.7" r="0.7"/>
<circle cx="1204.7" cy="814.7" r="0.7"/>
<circle cx="1136" cy="898.7" r="0.7"/>
<circle cx="1137" cy="914" r="0.7"/>
<circle cx="1149" cy="708" r="0.7"/>
<circle cx="1152" cy="712" r="0.7"/>
<circle cx="1155" cy="716" r="0.7"/>
<circle cx="1150" cy="720" r="0.7"/>
<circle cx="1146" cy="713" r="0.7"/>
<circle cx="1158" cy="700" r="0.7"/>
<circle cx="1163" cy="693" r="0.7"/>
<circle cx="1172" cy="693" r="0.7"/>
<circle cx="1110" cy="906" r="0.7"/>
<circle cx="1246" cy="263" r="0.7"/>
<circle cx="1168" cy="474" r="0.7"/>
<circle cx="1172" cy="478" r="0.7"/>
<circle cx="1163" cy="480" r="0.7"/>
</g>
<g>
<rect x="72" y="881" width="42" height="42" fill="#FFFFE5"/>
<rect x="72" y="923" width="42" height="42" fill="#FFFACA"/>
<rect x="72" y="965" width="42" height="42" fill="#FFF0AE"/>
<rect x="72" y="1007" width="42" height="42" fill="#FEE391"/>
<rect x="72" y="1049" width="42" height="42" fill="#FECE65"/>
<rect x="72" y="1091" width="42" height="42" fill="#FEB642"/>
<rect x="72" y="1133" width="42" height="42" fill="#FE9929"/>
<rect x="72" y="1175" width="42" height="42" fill="#F27E1B"/>
<rect x="72" y="1217" width="42" height="42" fill="#E1640E"/>
<rect x="72" y="1259" width="42" height="42" fill="#CC4C02"/>
<rect x="72" y="1301" width="42" height="42" fill="#AA3C03"/>
<rect x="72" y="1343" width="42" height="42" fill="#882F05"/>
<rect x="72" y="1385" width="42" height="42" fill="#662506"/>
</g>
<g font-family="'Liberation Sans', Arial, sans-serif" font-size="34.1">
<text transform="translate(125,915.6) scale(1,1.03)" textLength="265.5" lengthAdjust="spacing">0.068% - 0.163%</text>
<text transform="translate(125,957.6) scale(1,1.03)" textLength="265.5" lengthAdjust="spacing">0.163% - 0.260%</text>
<text transform="translate(125,999.6) scale(1,1.03)" textLength="265.5" lengthAdjust="spacing">0.260% - 0.349%</text>
<text transform="translate(125,1041.6) scale(1,1.03)" textLength="265.5" lengthAdjust="spacing">0.349% - 0.424%</text>
<text transform="translate(125,1083.6) scale(1,1.03)" textLength="265.5" lengthAdjust="spacing">0.424% - 0.513%</text>
<text transform="translate(125,1125.6) scale(1,1.03)" textLength="265.5" lengthAdjust="spacing">0.513% - 0.606%</text>
<text transform="translate(125,1167.6) scale(1,1.03)" textLength="265.5" lengthAdjust="spacing">0.606% - 0.777%</text>
<text transform="translate(125,1209.6) scale(1,1.03)" textLength="265.5" lengthAdjust="spacing">0.777% - 0.960%</text>
<text transform="translate(125,1251.6) scale(1,1.03)" textLength="265.5" lengthAdjust="spacing">0.960% - 1.184%</text>
<text transform="translate(125,1293.6) scale(1,1.03)" textLength="265.5" lengthAdjust="spacing">1.184% - 1.365%</text>
<text transform="translate(125,1335.6) scale(1,1.03)" textLength="265.5" lengthAdjust="spacing">1.365% - 1.562%</text>
<text transform="translate(125,1377.6) scale(1,1.03)" textLength="265.5" lengthAdjust="spacing">1.562% - 1.734%</text>
<text transform="translate(125,1419.6) scale(1,1.03)" textLength="265.5" lengthAdjust="spacing">1.734% - 2.652%</text>
</g>
<text x="68.3" y="856.5" font-family="'Liberation Serif', 'Noto Serif CJK SC', serif" font-size="44">相对占比</text>
<text x="59.5" y="133.2" font-family="'Liberation Sans', Arial, sans-serif" font-size="66.6" textLength="297" lengthAdjust="spacing">O-F2137_</text>
<text x="1178.5" y="1421.3" font-size="35.7" font-family="'Liberation Sans', 'Noto Serif CJK SC', serif"><tspan font-family="'Noto Serif CJK SC', serif">作者</tspan>:O1a<tspan font-family="'Noto Serif CJK SC', serif">溯源群</tspan></text>
<rect x="31" y="31" width="1438" height="1438" fill="none" stroke="#000" stroke-width="2"/>
</svg>
</body></html>
